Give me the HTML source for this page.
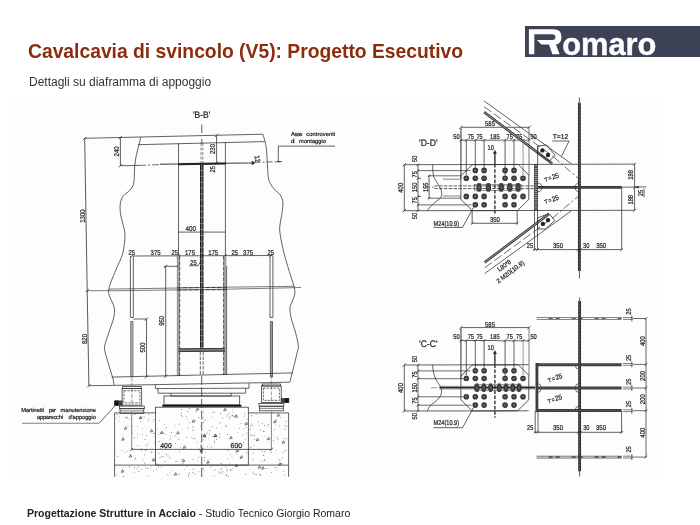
<!DOCTYPE html>
<html><head><meta charset="utf-8">
<style>
html,body{margin:0;padding:0;background:#fff;}
body{width:700px;height:525px;position:relative;overflow:hidden;font-family:"Liberation Sans",sans-serif;}
#title{position:absolute;left:28.3px;top:41.1px;font-size:19.3px;font-weight:bold;color:#8b2c0c;white-space:nowrap;}
#sub{position:absolute;left:28.5px;top:75px;font-size:12px;color:#333;white-space:nowrap;}
#foot{position:absolute;left:27px;top:506.5px;font-size:10.5px;color:#222;white-space:nowrap;}
#logo{position:absolute;left:525px;top:26px;width:175px;height:30.5px;background:#3d4257;}
#logo span{position:absolute;left:37.3px;top:1px;font-size:30.8px;font-weight:bold;color:#fff;-webkit-text-stroke:0.4px #fff;}
svg{position:absolute;left:0;top:0;}
svg text{font-family:"Liberation Sans",sans-serif;text-rendering:geometricPrecision;}
#title,#sub,#foot,#logo,#dw{will-change:transform;}
</style></head><body>
<div id="title">Cavalcavia di svincolo (V5): Progetto Esecutivo</div>
<div id="sub">Dettagli su diaframma di appoggio</div>
<div id="logo"><span>omaro</span>
<svg width="175" height="30" viewBox="525 26 175 30"><path d="M528.9 29.3 H553.5 Q561.4 29.3 561.4 36.5 V38 Q561.4 43.5 556 44.4 L559.6 54.3 H552.4 L549 44.6 H541.4 L536.9 40 H552 Q555.4 40 555.4 37.5 V36.8 Q555.4 34.3 552 34.3 H534.3 V54.3 H528.9 Z" fill="#fff"/></svg>
</div>
<div id="foot"><b>Progettazione Strutture in Acciaio</b> - Studio Tecnico Giorgio Romaro</div>
<svg id="dw" width="700" height="525" viewBox="0 0 700 525">
<rect x="13.5" y="96" width="644.5" height="384" fill="#fdfdfd"/>
<text x="201.7" y="118.3" font-size="9.5" text-anchor="middle" fill="#222" stroke="#222" stroke-width="0.22" textLength="17.5" lengthAdjust="spacingAndGlyphs">'B-B'</text>
<line x1="201.8" y1="124.5" x2="201.8" y2="133" stroke="#2e2e2e" stroke-width="0.8"/>
<line x1="201.8" y1="139" x2="201.8" y2="143.6" stroke="#2e2e2e" stroke-width="0.8"/>
<line x1="84.7" y1="138.3" x2="262.8" y2="134.2" stroke="#2e2e2e" stroke-width="0.75"/>
<line x1="137.9" y1="144.7" x2="264.8" y2="141.6" stroke="#2e2e2e" stroke-width="0.75"/>
<path d="M140.7 137.2 C140.40 138.50 139.63 141.98 138.9 145 C138.17 148.02 137.02 151.65 136.3 155.3 C135.58 158.95 134.93 163.27 134.6 166.9 C134.27 170.53 134.52 174.10 134.3 177.1 C134.08 180.10 134.07 182.67 133.3 184.9 C132.53 187.13 131.33 188.70 129.7 190.5 C128.07 192.30 125.05 193.63 123.5 195.7 C121.95 197.77 120.92 200.00 120.4 202.9 C119.88 205.80 120.02 209.68 120.4 213.1 C120.78 216.52 121.93 219.68 122.7 223.4 C123.47 227.12 125.00 230.40 125.0 235.4 C125.00 240.40 124.15 247.82 122.7 253.4 C121.25 258.98 118.23 264.18 116.3 268.9 C114.37 273.62 112.38 278.07 111.1 281.7 C109.82 285.33 108.80 288.13 108.6 290.7 C108.40 293.27 108.97 294.32 109.9 297.1 C110.83 299.88 113.57 303.97 114.2 307.4 C114.83 310.83 114.63 313.42 113.7 317.7 C112.77 321.98 110.10 328.38 108.6 333.1 C107.10 337.82 105.28 342.85 104.7 346 C104.12 349.15 104.38 348.72 105.1 352 C105.82 355.28 107.70 361.27 109 365.7 C110.30 370.13 112.05 375.35 112.9 378.6 C113.75 381.85 113.90 384.10 114.1 385.2" stroke="#2e2e2e" stroke-width="0.75" fill="none" stroke-linejoin="round"/>
<path d="M262.8 134.2 C263.35 136.22 265.33 141.28 266.1 146.3 C266.87 151.32 266.97 158.73 267.4 164.3 C267.83 169.87 267.62 175.63 268.7 179.7 C269.78 183.77 271.97 186.13 273.9 188.7 C275.83 191.27 278.80 192.73 280.3 195.1 C281.80 197.47 282.68 199.47 282.9 202.9 C283.12 206.33 282.12 211.85 281.6 215.7 C281.08 219.55 280.02 222.72 279.8 226 C279.58 229.28 279.58 230.83 280.3 235.4 C281.02 239.97 282.60 247.40 284.1 253.4 C285.60 259.40 287.70 266.03 289.3 271.4 C290.90 276.77 292.77 281.95 293.7 285.6 C294.63 289.25 295.12 290.73 294.9 293.3 C294.68 295.87 293.22 298.65 292.4 301 C291.58 303.35 290.22 304.62 290 307.4 C289.78 310.18 290.15 313.42 291.1 317.7 C292.05 321.98 294.50 328.38 295.7 333.1 C296.90 337.82 298.07 342.70 298.3 346 C298.53 349.30 297.82 349.62 297.1 352.9 C296.38 356.18 295.22 360.85 294 365.7 C292.78 370.55 290.50 379.28 289.8 382.0" stroke="#2e2e2e" stroke-width="0.75" fill="none" stroke-linejoin="round"/>
<path d="M84.7 138.3 L87.2 290.7 L88.9 385.7" stroke="#2e2e2e" stroke-width="0.8" fill="none" stroke-linejoin="round"/>
<line x1="83.10000000000001" y1="139.9" x2="86.3" y2="136.70000000000002" stroke="#2e2e2e" stroke-width="0.8"/>
<line x1="85.60000000000001" y1="292.3" x2="88.8" y2="289.09999999999997" stroke="#2e2e2e" stroke-width="0.8"/>
<line x1="87.30000000000001" y1="387.3" x2="90.5" y2="384.09999999999997" stroke="#2e2e2e" stroke-width="0.8"/>
<text x="85.3" y="216" font-size="7" text-anchor="middle" fill="#222" stroke="#222" stroke-width="0.22" transform="rotate(-90 85.3 216)" textLength="13.5" lengthAdjust="spacingAndGlyphs">1300</text>
<text x="87" y="339" font-size="7" text-anchor="middle" fill="#222" stroke="#222" stroke-width="0.22" transform="rotate(-90 87 339)" textLength="10" lengthAdjust="spacingAndGlyphs">820</text>
<line x1="120.4" y1="137.5" x2="120.4" y2="165.7" stroke="#2e2e2e" stroke-width="0.75"/>
<line x1="118.80000000000001" y1="139.1" x2="122.0" y2="135.9" stroke="#2e2e2e" stroke-width="0.8"/>
<line x1="118.80000000000001" y1="167.29999999999998" x2="122.0" y2="164.1" stroke="#2e2e2e" stroke-width="0.8"/>
<line x1="120.4" y1="165.7" x2="139" y2="165.4" stroke="#2e2e2e" stroke-width="0.75"/>
<line x1="139" y1="165.4" x2="160" y2="164.6" stroke="#2e2e2e" stroke-width="0.7" stroke-dasharray="7 2 2 2"/>
<text x="118.8" y="151.4" font-size="7" text-anchor="middle" fill="#222" stroke="#222" stroke-width="0.22" transform="rotate(-90 118.8 151.4)" textLength="10" lengthAdjust="spacingAndGlyphs">240</text>
<line x1="160" y1="164.4" x2="254.0" y2="163.0" stroke="#4a4a4a" stroke-width="0.9"/>
<line x1="160" y1="163.6" x2="254.0" y2="162.3" stroke="#888" stroke-width="0.5"/>
<line x1="178" y1="164.2" x2="226" y2="163.5" stroke="#222" stroke-width="2.0"/>
<line x1="254.6" y1="162.3" x2="282" y2="161.6" stroke="#2e2e2e" stroke-width="0.7" stroke-dasharray="6 2 2 2"/>
<text x="255.0" y="159.2" font-size="7" text-anchor="middle" fill="#222" stroke="#222" stroke-width="0.22" transform="rotate(80 255.0 159.2)" textLength="6.4" lengthAdjust="spacingAndGlyphs">12</text>
<path d="M252.0 161.2 L255.0 163.0 L252.0 164.8 Z" stroke="#2e2e2e" stroke-width="0.6" fill="#2e2e2e" stroke-linejoin="round"/>
<text x="291.1" y="135.6" font-size="5.7" text-anchor="start" fill="#222" stroke="#222" stroke-width="0.22" textLength="11.4" lengthAdjust="spacing">Asse</text>
<text x="306.3" y="135.6" font-size="5.7" text-anchor="start" fill="#222" stroke="#222" stroke-width="0.22" textLength="28.8" lengthAdjust="spacing">controventi</text>
<text x="291.1" y="143.0" font-size="5.7" text-anchor="start" fill="#222" stroke="#222" stroke-width="0.22" textLength="3.5" lengthAdjust="spacing">di</text>
<text x="299.1" y="143.0" font-size="5.7" text-anchor="start" fill="#222" stroke="#222" stroke-width="0.22" textLength="26.9" lengthAdjust="spacing">montaggio</text>
<line x1="278.0" y1="146.1" x2="335.1" y2="146.1" stroke="#808080" stroke-width="1.1"/>
<line x1="278.3" y1="146.3" x2="278.3" y2="161.7" stroke="#2e2e2e" stroke-width="0.75"/>
<line x1="276.8" y1="161.7" x2="280.5" y2="161.7" stroke="#2e2e2e" stroke-width="1.0"/>
<line x1="216.6" y1="136" x2="216.6" y2="163.3" stroke="#2e2e2e" stroke-width="0.75"/>
<line x1="215.0" y1="136.9" x2="218.2" y2="133.70000000000002" stroke="#2e2e2e" stroke-width="0.8"/>
<line x1="215.0" y1="164.9" x2="218.2" y2="161.70000000000002" stroke="#2e2e2e" stroke-width="0.8"/>
<text x="215.0" y="149" font-size="7" text-anchor="middle" fill="#222" stroke="#222" stroke-width="0.22" transform="rotate(-90 215.0 149)" textLength="10" lengthAdjust="spacingAndGlyphs">230</text>
<text x="215.0" y="169.2" font-size="7" text-anchor="middle" fill="#222" stroke="#222" stroke-width="0.22" transform="rotate(-90 215.0 169.2)" textLength="6.5" lengthAdjust="spacingAndGlyphs">25</text>
<line x1="178.5" y1="143.3" x2="178.5" y2="256" stroke="#2e2e2e" stroke-width="0.75"/>
<line x1="225.4" y1="142.2" x2="225.4" y2="256" stroke="#2e2e2e" stroke-width="0.75"/>
<line x1="178.5" y1="232.1" x2="225" y2="232.1" stroke="#2e2e2e" stroke-width="0.75"/>
<text x="190.8" y="231.2" font-size="7" text-anchor="middle" fill="#222" stroke="#222" stroke-width="0.22" textLength="10.5" lengthAdjust="spacingAndGlyphs">400</text>
<line x1="201.7" y1="165" x2="201.7" y2="348.5" stroke="#707070" stroke-width="3.2"/>
<line x1="200.5" y1="165" x2="200.5" y2="348.5" stroke="#151515" stroke-width="1.0" stroke-dasharray="5 0.9"/>
<line x1="202.9" y1="165" x2="202.9" y2="348.5" stroke="#151515" stroke-width="1.0" stroke-dasharray="5 0.9"/>
<line x1="200.3" y1="351.7" x2="200.3" y2="375.3" stroke="#5a5a5a" stroke-width="0.9" stroke-dasharray="3.5 1.3"/>
<line x1="203.2" y1="351.7" x2="203.2" y2="375.3" stroke="#5a5a5a" stroke-width="0.9" stroke-dasharray="3.5 1.3"/>
<line x1="201.0" y1="143" x2="201.0" y2="163" stroke="#555" stroke-width="0.7" stroke-dasharray="3 1.5"/>
<line x1="202.8" y1="143" x2="202.8" y2="163" stroke="#555" stroke-width="0.7" stroke-dasharray="3 1.5"/>
<line x1="133.3" y1="256" x2="272.6" y2="255.5" stroke="#2e2e2e" stroke-width="0.75"/>
<line x1="130.3" y1="257.59335" x2="133.5" y2="254.39335" stroke="#2e2e2e" stroke-width="0.8"/>
<line x1="176.9" y1="257.43025" x2="180.1" y2="254.23025" stroke="#2e2e2e" stroke-width="0.8"/>
<line x1="200.20000000000002" y1="257.3487" x2="203.4" y2="254.14870000000002" stroke="#2e2e2e" stroke-width="0.8"/>
<line x1="223.4" y1="257.2675" x2="226.6" y2="254.0675" stroke="#2e2e2e" stroke-width="0.8"/>
<line x1="269.59999999999997" y1="257.1058" x2="272.8" y2="253.9058" stroke="#2e2e2e" stroke-width="0.8"/>
<text x="131.7" y="254.6" font-size="7" text-anchor="middle" fill="#222" stroke="#222" stroke-width="0.22" textLength="6.5" lengthAdjust="spacingAndGlyphs">25</text>
<text x="155.6" y="254.6" font-size="7" text-anchor="middle" fill="#222" stroke="#222" stroke-width="0.22" textLength="10" lengthAdjust="spacingAndGlyphs">375</text>
<text x="174.7" y="254.6" font-size="7" text-anchor="middle" fill="#222" stroke="#222" stroke-width="0.22" textLength="6.5" lengthAdjust="spacingAndGlyphs">25</text>
<text x="190" y="254.6" font-size="7" text-anchor="middle" fill="#222" stroke="#222" stroke-width="0.22" textLength="10" lengthAdjust="spacingAndGlyphs">175</text>
<text x="213.2" y="254.6" font-size="7" text-anchor="middle" fill="#222" stroke="#222" stroke-width="0.22" textLength="10" lengthAdjust="spacingAndGlyphs">175</text>
<text x="234.7" y="254.6" font-size="7" text-anchor="middle" fill="#222" stroke="#222" stroke-width="0.22" textLength="6.5" lengthAdjust="spacingAndGlyphs">25</text>
<text x="248.1" y="254.6" font-size="7" text-anchor="middle" fill="#222" stroke="#222" stroke-width="0.22" textLength="10" lengthAdjust="spacingAndGlyphs">375</text>
<text x="270.8" y="254.6" font-size="7" text-anchor="middle" fill="#222" stroke="#222" stroke-width="0.22" textLength="6.5" lengthAdjust="spacingAndGlyphs">25</text>
<text x="193.6" y="264.9" font-size="7" text-anchor="middle" fill="#222" stroke="#222" stroke-width="0.22" textLength="6.5" lengthAdjust="spacingAndGlyphs">25</text>
<line x1="189" y1="265.7" x2="198.1" y2="265.7" stroke="#2e2e2e" stroke-width="0.75"/>
<line x1="198.1" y1="265.7" x2="201" y2="261" stroke="#2e2e2e" stroke-width="0.75"/>
<line x1="178.5" y1="256" x2="178.5" y2="376" stroke="#a4a4a4" stroke-width="2.6"/>
<line x1="179.7" y1="256" x2="179.7" y2="376" stroke="#333" stroke-width="0.8" stroke-dasharray="4 1.3"/>
<line x1="177.3" y1="256" x2="177.3" y2="376" stroke="#666" stroke-width="0.5"/>
<line x1="225.0" y1="256" x2="225.0" y2="375" stroke="#a4a4a4" stroke-width="2.8"/>
<line x1="223.6" y1="256" x2="223.6" y2="375" stroke="#333" stroke-width="0.8" stroke-dasharray="4 1.3"/>
<line x1="226.6" y1="266" x2="226.6" y2="375" stroke="#333" stroke-width="0.7"/>
<line x1="130.4" y1="256" x2="130.4" y2="317.5" stroke="#2e2e2e" stroke-width="0.75"/>
<line x1="133.3" y1="256" x2="133.3" y2="317.5" stroke="#2e2e2e" stroke-width="0.75"/>
<line x1="130.4" y1="317.5" x2="133.3" y2="317.5" stroke="#2e2e2e" stroke-width="0.75"/>
<line x1="130.8" y1="321.5" x2="130.8" y2="377.3" stroke="#2e2e2e" stroke-width="0.75"/>
<line x1="132.9" y1="321.5" x2="132.9" y2="377.3" stroke="#2e2e2e" stroke-width="0.75"/>
<line x1="130.8" y1="321.5" x2="132.9" y2="321.5" stroke="#2e2e2e" stroke-width="0.75"/>
<line x1="131.85" y1="321.5" x2="131.85" y2="377" stroke="#888" stroke-width="0.9"/>
<line x1="270.0" y1="256" x2="270.0" y2="317.5" stroke="#2e2e2e" stroke-width="0.75"/>
<line x1="272.9" y1="256" x2="272.9" y2="317.5" stroke="#2e2e2e" stroke-width="0.75"/>
<line x1="270.0" y1="317.5" x2="272.9" y2="317.5" stroke="#2e2e2e" stroke-width="0.75"/>
<line x1="270.4" y1="321.5" x2="270.4" y2="377.3" stroke="#2e2e2e" stroke-width="0.75"/>
<line x1="272.5" y1="321.5" x2="272.5" y2="377.3" stroke="#2e2e2e" stroke-width="0.75"/>
<line x1="270.4" y1="321.5" x2="272.5" y2="321.5" stroke="#2e2e2e" stroke-width="0.75"/>
<line x1="271.45" y1="321.5" x2="271.45" y2="377" stroke="#888" stroke-width="0.9"/>
<line x1="86.7" y1="290.8" x2="109" y2="290.6" stroke="#444" stroke-width="0.7"/>
<path d="M109 289.1 L178 288.0 L226 287.2 L294.6 286.3" stroke="#444" stroke-width="0.7" fill="none" stroke-linejoin="round"/>
<path d="M109 290.8 L178 289.9 L226 289.2 L294.6 287.7 L301 287.4" stroke="#444" stroke-width="0.7" fill="none" stroke-linejoin="round"/>
<line x1="177" y1="287.7" x2="226.7" y2="287.4" stroke="#333" stroke-width="0.85" stroke-dasharray="4.5 1.2"/>
<line x1="177" y1="290.0" x2="226.7" y2="289.7" stroke="#333" stroke-width="0.85" stroke-dasharray="4.5 1.2"/>
<line x1="165.7" y1="266.3" x2="165.7" y2="376.4" stroke="#2e2e2e" stroke-width="0.75"/>
<line x1="163.9" y1="266.3" x2="178.5" y2="266.3" stroke="#2e2e2e" stroke-width="0.75"/>
<line x1="164.1" y1="267.90000000000003" x2="167.29999999999998" y2="264.7" stroke="#2e2e2e" stroke-width="0.8"/>
<line x1="164.1" y1="378.0" x2="167.29999999999998" y2="374.79999999999995" stroke="#2e2e2e" stroke-width="0.8"/>
<text x="164.0" y="320.8" font-size="7" text-anchor="middle" fill="#222" stroke="#222" stroke-width="0.22" transform="rotate(-90 164.0 320.8)" textLength="10" lengthAdjust="spacingAndGlyphs">950</text>
<line x1="146.5" y1="319" x2="146.5" y2="376.8" stroke="#2e2e2e" stroke-width="0.75"/>
<line x1="133.3" y1="319" x2="146.5" y2="319" stroke="#2e2e2e" stroke-width="0.75"/>
<line x1="144.9" y1="320.6" x2="148.1" y2="317.4" stroke="#2e2e2e" stroke-width="0.8"/>
<line x1="144.9" y1="378.40000000000003" x2="148.1" y2="375.2" stroke="#2e2e2e" stroke-width="0.8"/>
<text x="145" y="347.5" font-size="7" text-anchor="middle" fill="#222" stroke="#222" stroke-width="0.22" transform="rotate(-90 145 347.5)" textLength="10" lengthAdjust="spacingAndGlyphs">500</text>
<line x1="178.5" y1="350.2" x2="225" y2="349.8" stroke="#777" stroke-width="3.2"/>
<line x1="178.5" y1="348.8" x2="225" y2="348.4" stroke="#222" stroke-width="0.8"/>
<line x1="178.5" y1="351.6" x2="225" y2="351.2" stroke="#222" stroke-width="0.8"/>
<line x1="111.7" y1="377.1" x2="292.9" y2="372.9" stroke="#2e2e2e" stroke-width="0.75"/>
<line x1="88.9" y1="385.7" x2="112.6" y2="385.4" stroke="#2e2e2e" stroke-width="0.75"/>
<line x1="112.6" y1="385.4" x2="289.6" y2="382.2" stroke="#2e2e2e" stroke-width="0.75"/>
<rect x="122.7" y="386.5" width="18.4" height="2.0" fill="none" stroke="#2e2e2e" stroke-width="0.75"/>
<rect x="122.10000000000001" y="388.5" width="19.6" height="16.6" fill="none" stroke="#2e2e2e" stroke-width="0.75"/>
<rect x="123.9" y="390.7" width="16.0" height="12.2" fill="none" stroke="#2e2e2e" stroke-width="0.7" stroke-dasharray="2.2 1.2"/>
<rect x="119.5" y="406.1" width="24.8" height="2.6" fill="none" stroke="#2e2e2e" stroke-width="0.75"/>
<rect x="120.0" y="408.7" width="23.8" height="4.6" fill="none" stroke="#2e2e2e" stroke-width="0.75"/>
<line x1="120.0" y1="410.9" x2="143.8" y2="410.9" stroke="#2e2e2e" stroke-width="0.6"/>
<line x1="131.9" y1="377.5" x2="131.9" y2="406.5" stroke="#555" stroke-width="0.6" stroke-dasharray="4 1.5"/>
<rect x="114.7" y="400.9" width="7.4" height="4.4" fill="#444" stroke="#2e2e2e" stroke-width="0.6"/>
<rect x="114.7" y="400.9" width="3.6" height="4.4" fill="#111" stroke="#2e2e2e" stroke-width="0.6"/>
<rect x="262.2" y="384.0" width="18.4" height="2.0" fill="none" stroke="#2e2e2e" stroke-width="0.75"/>
<rect x="261.59999999999997" y="386.0" width="19.6" height="16.6" fill="none" stroke="#2e2e2e" stroke-width="0.75"/>
<rect x="263.4" y="388.2" width="16.0" height="12.2" fill="none" stroke="#2e2e2e" stroke-width="0.7" stroke-dasharray="2.2 1.2"/>
<rect x="259.0" y="403.6" width="24.8" height="2.6" fill="none" stroke="#2e2e2e" stroke-width="0.75"/>
<rect x="259.5" y="406.2" width="23.8" height="4.6" fill="none" stroke="#2e2e2e" stroke-width="0.75"/>
<line x1="259.5" y1="408.4" x2="283.29999999999995" y2="408.4" stroke="#2e2e2e" stroke-width="0.6"/>
<line x1="271.4" y1="375.0" x2="271.4" y2="404.0" stroke="#555" stroke-width="0.6" stroke-dasharray="4 1.5"/>
<rect x="281.2" y="398.4" width="7.6" height="4.2" fill="#444" stroke="#2e2e2e" stroke-width="0.6"/>
<rect x="285.0" y="398.4" width="3.8" height="4.2" fill="#111" stroke="#2e2e2e" stroke-width="0.6"/>
<path d="M155.4 385.0 L155.4 388.6 L249.0 388.2 L249.0 383.4" stroke="#2e2e2e" stroke-width="0.75" fill="none" stroke-linejoin="round"/>
<path d="M158.0 388.6 L158.0 393.2 L245.7 393.2 L245.7 388.3" stroke="#2e2e2e" stroke-width="0.75" fill="none" stroke-linejoin="round"/>
<path d="M170.9 393.2 L170.9 396 L231.1 396 L231.1 393.2" stroke="#2e2e2e" stroke-width="0.75" fill="none" stroke-linejoin="round"/>
<rect x="164.0" y="396" width="75.7" height="8.9" fill="none" stroke="#2e2e2e" stroke-width="0.75"/>
<line x1="162.3" y1="405.8" x2="241.4" y2="405.8" stroke="#111" stroke-width="2.0"/>
<rect x="155.5" y="407.2" width="92.8" height="57.9" fill="none" stroke="#2e2e2e" stroke-width="0.75"/>
<path d="M155.5 412.9 L114.6 412.9 L114.6 476.8" stroke="#2e2e2e" stroke-width="0.75" fill="none" stroke-linejoin="round"/>
<path d="M248.3 412.9 L288.6 412.9 L288.6 476.8" stroke="#2e2e2e" stroke-width="0.75" fill="none" stroke-linejoin="round"/>
<line x1="114.6" y1="465.1" x2="288.6" y2="465.1" stroke="#2e2e2e" stroke-width="0.75"/>
<line x1="201.7" y1="376" x2="201.7" y2="477" stroke="#333" stroke-width="0.8" stroke-dasharray="9 2.5"/>
<line x1="131.7" y1="449.4" x2="271.4" y2="449.4" stroke="#2e2e2e" stroke-width="0.75"/>
<line x1="131.7" y1="411.5" x2="131.7" y2="449.4" stroke="#777" stroke-width="0.9"/>
<line x1="271.4" y1="411.5" x2="271.4" y2="449.4" stroke="#777" stroke-width="0.9"/>
<line x1="130.1" y1="451.0" x2="133.29999999999998" y2="447.79999999999995" stroke="#2e2e2e" stroke-width="0.8"/>
<line x1="200.1" y1="451.0" x2="203.29999999999998" y2="447.79999999999995" stroke="#2e2e2e" stroke-width="0.8"/>
<line x1="269.79999999999995" y1="451.0" x2="273.0" y2="447.79999999999995" stroke="#2e2e2e" stroke-width="0.8"/>
<text x="166" y="447.9" font-size="7" text-anchor="middle" fill="#222" stroke="#222" stroke-width="0.22" textLength="11.5" lengthAdjust="spacingAndGlyphs">400</text>
<text x="236.3" y="447.9" font-size="7" text-anchor="middle" fill="#222" stroke="#222" stroke-width="0.22" textLength="11.5" lengthAdjust="spacingAndGlyphs">600</text>
<rect x="185.9" y="416.6" width="0.8" height="0.8" fill="#555"/>
<rect x="163.1" y="438.1" width="0.8" height="0.8" fill="#999"/>
<rect x="209.4" y="459.0" width="0.8" height="0.8" fill="#777"/>
<rect x="159.9" y="432.4" width="0.8" height="0.8" fill="#555"/>
<rect x="178.4" y="438.9" width="0.8" height="0.8" fill="#555"/>
<rect x="231.6" y="415.1" width="0.8" height="0.8" fill="#777"/>
<rect x="213.8" y="440.7" width="0.8" height="0.8" fill="#555"/>
<rect x="208.9" y="430.3" width="0.8" height="0.8" fill="#777"/>
<rect x="160.7" y="456.1" width="0.8" height="0.8" fill="#999"/>
<rect x="194.6" y="438.4" width="0.8" height="0.8" fill="#999"/>
<rect x="207.4" y="446.3" width="0.8" height="0.8" fill="#555"/>
<rect x="209.3" y="443.9" width="0.8" height="0.8" fill="#999"/>
<rect x="165.3" y="447.9" width="0.8" height="0.8" fill="#555"/>
<rect x="212.7" y="435.9" width="0.8" height="0.8" fill="#444"/>
<rect x="227.1" y="434.2" width="0.8" height="0.8" fill="#444"/>
<rect x="189.3" y="422.1" width="0.8" height="0.8" fill="#777"/>
<rect x="220.0" y="421.8" width="0.8" height="0.8" fill="#999"/>
<rect x="204.2" y="457.0" width="0.8" height="0.8" fill="#444"/>
<rect x="182.6" y="462.9" width="0.8" height="0.8" fill="#555"/>
<rect x="203.0" y="417.4" width="0.8" height="0.8" fill="#999"/>
<rect x="170.3" y="435.5" width="0.8" height="0.8" fill="#555"/>
<rect x="243.9" y="412.5" width="0.8" height="0.8" fill="#999"/>
<rect x="187.4" y="427.7" width="0.8" height="0.8" fill="#444"/>
<rect x="209.2" y="433.7" width="0.8" height="0.8" fill="#555"/>
<rect x="242.3" y="434.7" width="0.8" height="0.8" fill="#555"/>
<rect x="162.0" y="447.3" width="0.8" height="0.8" fill="#444"/>
<rect x="182.3" y="429.7" width="0.8" height="0.8" fill="#999"/>
<rect x="158.5" y="434.0" width="0.8" height="0.8" fill="#777"/>
<rect x="212.0" y="435.7" width="0.8" height="0.8" fill="#777"/>
<rect x="226.3" y="415.4" width="0.8" height="0.8" fill="#777"/>
<rect x="192.6" y="459.4" width="0.8" height="0.8" fill="#444"/>
<rect x="163.8" y="433.3" width="0.8" height="0.8" fill="#999"/>
<rect x="236.7" y="453.9" width="0.8" height="0.8" fill="#999"/>
<rect x="220.6" y="463.2" width="0.8" height="0.8" fill="#444"/>
<rect x="243.5" y="416.6" width="0.8" height="0.8" fill="#777"/>
<rect x="170.2" y="444.9" width="0.8" height="0.8" fill="#555"/>
<rect x="200.5" y="441.1" width="0.8" height="0.8" fill="#999"/>
<rect x="182.1" y="416.3" width="0.8" height="0.8" fill="#999"/>
<rect x="211.9" y="426.0" width="0.8" height="0.8" fill="#777"/>
<rect x="219.2" y="437.0" width="0.8" height="0.8" fill="#555"/>
<rect x="198.0" y="456.8" width="0.8" height="0.8" fill="#444"/>
<rect x="192.6" y="430.2" width="0.8" height="0.8" fill="#444"/>
<rect x="214.1" y="411.7" width="0.8" height="0.8" fill="#555"/>
<rect x="245.9" y="432.8" width="0.8" height="0.8" fill="#555"/>
<rect x="187.4" y="411.1" width="0.8" height="0.8" fill="#555"/>
<rect x="208.0" y="438.1" width="0.8" height="0.8" fill="#999"/>
<rect x="212.2" y="412.1" width="0.8" height="0.8" fill="#777"/>
<rect x="212.3" y="416.5" width="0.8" height="0.8" fill="#999"/>
<rect x="243.3" y="441.8" width="0.8" height="0.8" fill="#444"/>
<rect x="167.7" y="455.6" width="0.8" height="0.8" fill="#444"/>
<rect x="200.1" y="425.6" width="0.8" height="0.8" fill="#777"/>
<rect x="165.8" y="427.3" width="0.8" height="0.8" fill="#999"/>
<rect x="200.0" y="446.8" width="0.8" height="0.8" fill="#555"/>
<rect x="175.1" y="461.3" width="0.8" height="0.8" fill="#999"/>
<rect x="169.8" y="438.5" width="0.8" height="0.8" fill="#555"/>
<rect x="225.3" y="424.8" width="0.8" height="0.8" fill="#555"/>
<rect x="219.7" y="422.8" width="0.8" height="0.8" fill="#999"/>
<rect x="239.0" y="428.0" width="0.8" height="0.8" fill="#777"/>
<rect x="204.9" y="451.7" width="0.8" height="0.8" fill="#999"/>
<rect x="214.3" y="442.4" width="0.8" height="0.8" fill="#777"/>
<rect x="229.7" y="453.9" width="0.8" height="0.8" fill="#777"/>
<rect x="174.7" y="435.7" width="0.8" height="0.8" fill="#555"/>
<rect x="246.4" y="452.3" width="0.8" height="0.8" fill="#444"/>
<rect x="180.0" y="446.8" width="0.8" height="0.8" fill="#999"/>
<rect x="197.1" y="460.5" width="0.8" height="0.8" fill="#999"/>
<rect x="243.2" y="428.5" width="0.8" height="0.8" fill="#777"/>
<rect x="165.8" y="434.4" width="0.8" height="0.8" fill="#999"/>
<rect x="175.1" y="443.0" width="0.8" height="0.8" fill="#555"/>
<rect x="200.0" y="444.6" width="0.8" height="0.8" fill="#555"/>
<rect x="232.3" y="414.9" width="0.8" height="0.8" fill="#444"/>
<rect x="227.5" y="450.1" width="0.8" height="0.8" fill="#444"/>
<rect x="237.2" y="432.4" width="0.8" height="0.8" fill="#999"/>
<rect x="164.4" y="461.0" width="0.8" height="0.8" fill="#444"/>
<rect x="198.6" y="449.7" width="0.8" height="0.8" fill="#555"/>
<rect x="222.3" y="417.7" width="0.8" height="0.8" fill="#777"/>
<rect x="159.0" y="441.2" width="0.8" height="0.8" fill="#444"/>
<rect x="229.7" y="416.4" width="0.8" height="0.8" fill="#444"/>
<rect x="216.2" y="427.8" width="0.8" height="0.8" fill="#777"/>
<rect x="158.4" y="452.8" width="0.8" height="0.8" fill="#555"/>
<rect x="204.3" y="460.3" width="0.8" height="0.8" fill="#444"/>
<rect x="246.1" y="419.1" width="0.8" height="0.8" fill="#777"/>
<rect x="159.0" y="420.1" width="0.8" height="0.8" fill="#777"/>
<rect x="225.8" y="426.4" width="0.8" height="0.8" fill="#444"/>
<rect x="232.2" y="411.6" width="0.8" height="0.8" fill="#999"/>
<rect x="238.0" y="445.2" width="0.8" height="0.8" fill="#444"/>
<rect x="231.6" y="457.2" width="0.8" height="0.8" fill="#777"/>
<rect x="204.8" y="437.4" width="0.8" height="0.8" fill="#555"/>
<rect x="235.8" y="451.5" width="0.8" height="0.8" fill="#555"/>
<rect x="227.0" y="416.6" width="0.8" height="0.8" fill="#777"/>
<rect x="199.5" y="448.7" width="0.8" height="0.8" fill="#555"/>
<rect x="186.1" y="437.1" width="0.8" height="0.8" fill="#444"/>
<rect x="227.7" y="414.1" width="0.8" height="0.8" fill="#555"/>
<rect x="179.1" y="423.7" width="0.8" height="0.8" fill="#555"/>
<rect x="202.6" y="439.5" width="0.8" height="0.8" fill="#555"/>
<rect x="196.7" y="442.4" width="0.8" height="0.8" fill="#777"/>
<rect x="219.4" y="433.4" width="0.8" height="0.8" fill="#444"/>
<rect x="202.6" y="422.0" width="0.8" height="0.8" fill="#999"/>
<rect x="240.3" y="458.0" width="0.8" height="0.8" fill="#777"/>
<rect x="232.8" y="415.9" width="0.8" height="0.8" fill="#555"/>
<rect x="192.1" y="425.8" width="0.8" height="0.8" fill="#777"/>
<rect x="195.4" y="420.1" width="0.8" height="0.8" fill="#999"/>
<rect x="227.7" y="458.3" width="0.8" height="0.8" fill="#777"/>
<rect x="241.8" y="444.1" width="0.8" height="0.8" fill="#999"/>
<rect x="169.5" y="457.5" width="0.8" height="0.8" fill="#444"/>
<rect x="176.4" y="461.3" width="0.8" height="0.8" fill="#444"/>
<rect x="236.9" y="417.3" width="0.8" height="0.8" fill="#777"/>
<rect x="171.2" y="432.3" width="0.8" height="0.8" fill="#444"/>
<rect x="187.3" y="419.1" width="0.8" height="0.8" fill="#999"/>
<rect x="164.9" y="428.6" width="0.8" height="0.8" fill="#999"/>
<rect x="206.8" y="432.8" width="0.8" height="0.8" fill="#555"/>
<rect x="191.4" y="437.1" width="0.8" height="0.8" fill="#999"/>
<rect x="203.0" y="411.8" width="0.8" height="0.8" fill="#777"/>
<rect x="244.7" y="414.0" width="0.8" height="0.8" fill="#999"/>
<rect x="181.2" y="458.7" width="0.8" height="0.8" fill="#777"/>
<rect x="181.1" y="415.4" width="0.8" height="0.8" fill="#444"/>
<rect x="233.6" y="445.9" width="0.8" height="0.8" fill="#999"/>
<rect x="193.4" y="438.1" width="0.8" height="0.8" fill="#444"/>
<rect x="220.1" y="413.2" width="0.8" height="0.8" fill="#555"/>
<rect x="229.1" y="418.4" width="0.8" height="0.8" fill="#555"/>
<rect x="180.9" y="409.1" width="0.8" height="0.8" fill="#555"/>
<rect x="229.3" y="412.9" width="0.8" height="0.8" fill="#777"/>
<rect x="162.5" y="456.3" width="0.8" height="0.8" fill="#444"/>
<rect x="157.5" y="463.7" width="0.8" height="0.8" fill="#444"/>
<rect x="240.6" y="423.1" width="0.8" height="0.8" fill="#777"/>
<rect x="160.4" y="447.8" width="0.8" height="0.8" fill="#555"/>
<rect x="244.5" y="422.8" width="0.8" height="0.8" fill="#777"/>
<rect x="174.8" y="425.6" width="0.8" height="0.8" fill="#999"/>
<rect x="204.7" y="419.7" width="0.8" height="0.8" fill="#444"/>
<rect x="201.9" y="418.1" width="0.8" height="0.8" fill="#999"/>
<rect x="229.5" y="463.7" width="0.8" height="0.8" fill="#555"/>
<rect x="157.9" y="449.1" width="0.8" height="0.8" fill="#777"/>
<rect x="203.2" y="421.9" width="0.8" height="0.8" fill="#444"/>
<rect x="166.2" y="453.9" width="0.8" height="0.8" fill="#444"/>
<rect x="216.1" y="438.7" width="0.8" height="0.8" fill="#444"/>
<rect x="244.6" y="425.4" width="0.8" height="0.8" fill="#777"/>
<rect x="245.7" y="427.3" width="0.8" height="0.8" fill="#777"/>
<rect x="193.2" y="427.6" width="0.8" height="0.8" fill="#555"/>
<rect x="232.5" y="409.0" width="0.8" height="0.8" fill="#999"/>
<rect x="195.6" y="411.3" width="0.8" height="0.8" fill="#444"/>
<rect x="235.5" y="445.6" width="0.8" height="0.8" fill="#999"/>
<rect x="210.9" y="446.9" width="0.8" height="0.8" fill="#555"/>
<rect x="198.2" y="417.0" width="0.8" height="0.8" fill="#444"/>
<rect x="156.8" y="428.5" width="0.8" height="0.8" fill="#999"/>
<rect x="244.8" y="438.7" width="0.8" height="0.8" fill="#777"/>
<rect x="159.6" y="457.4" width="0.8" height="0.8" fill="#777"/>
<rect x="188.9" y="408.3" width="0.8" height="0.8" fill="#444"/>
<rect x="164.1" y="423.8" width="0.8" height="0.8" fill="#777"/>
<rect x="179.0" y="451.5" width="0.8" height="0.8" fill="#555"/>
<rect x="180.5" y="413.2" width="0.8" height="0.8" fill="#444"/>
<rect x="209.8" y="430.2" width="0.8" height="0.8" fill="#999"/>
<rect x="127.4" y="425.6" width="0.8" height="0.8" fill="#777"/>
<rect x="141.2" y="449.8" width="0.8" height="0.8" fill="#444"/>
<rect x="145.3" y="450.0" width="0.8" height="0.8" fill="#444"/>
<rect x="121.4" y="450.2" width="0.8" height="0.8" fill="#777"/>
<rect x="117.3" y="455.8" width="0.8" height="0.8" fill="#444"/>
<rect x="144.1" y="454.6" width="0.8" height="0.8" fill="#777"/>
<rect x="151.0" y="451.6" width="0.8" height="0.8" fill="#555"/>
<rect x="147.7" y="443.2" width="0.8" height="0.8" fill="#777"/>
<rect x="118.9" y="416.1" width="0.8" height="0.8" fill="#999"/>
<rect x="152.9" y="432.8" width="0.8" height="0.8" fill="#444"/>
<rect x="137.3" y="445.4" width="0.8" height="0.8" fill="#777"/>
<rect x="134.6" y="414.2" width="0.8" height="0.8" fill="#555"/>
<rect x="144.7" y="439.1" width="0.8" height="0.8" fill="#555"/>
<rect x="141.2" y="417.3" width="0.8" height="0.8" fill="#444"/>
<rect x="125.4" y="417.7" width="0.8" height="0.8" fill="#999"/>
<rect x="124.7" y="451.8" width="0.8" height="0.8" fill="#777"/>
<rect x="144.4" y="462.8" width="0.8" height="0.8" fill="#444"/>
<rect x="148.5" y="417.8" width="0.8" height="0.8" fill="#999"/>
<rect x="145.4" y="444.8" width="0.8" height="0.8" fill="#777"/>
<rect x="118.6" y="421.4" width="0.8" height="0.8" fill="#999"/>
<rect x="140.9" y="448.6" width="0.8" height="0.8" fill="#777"/>
<rect x="116.1" y="417.0" width="0.8" height="0.8" fill="#999"/>
<rect x="153.4" y="419.0" width="0.8" height="0.8" fill="#777"/>
<rect x="141.9" y="428.5" width="0.8" height="0.8" fill="#999"/>
<rect x="133.7" y="437.3" width="0.8" height="0.8" fill="#555"/>
<rect x="154.2" y="441.5" width="0.8" height="0.8" fill="#999"/>
<rect x="153.6" y="460.8" width="0.8" height="0.8" fill="#555"/>
<rect x="126.9" y="417.8" width="0.8" height="0.8" fill="#444"/>
<rect x="154.3" y="433.3" width="0.8" height="0.8" fill="#777"/>
<rect x="118.5" y="418.5" width="0.8" height="0.8" fill="#999"/>
<rect x="152.7" y="420.6" width="0.8" height="0.8" fill="#999"/>
<rect x="150.1" y="449.2" width="0.8" height="0.8" fill="#777"/>
<rect x="135.0" y="457.8" width="0.8" height="0.8" fill="#444"/>
<rect x="116.6" y="414.2" width="0.8" height="0.8" fill="#444"/>
<rect x="142.1" y="434.3" width="0.8" height="0.8" fill="#777"/>
<rect x="131.8" y="432.8" width="0.8" height="0.8" fill="#555"/>
<rect x="148.3" y="414.1" width="0.8" height="0.8" fill="#999"/>
<rect x="148.2" y="420.0" width="0.8" height="0.8" fill="#777"/>
<rect x="143.3" y="459.1" width="0.8" height="0.8" fill="#999"/>
<rect x="125.4" y="417.2" width="0.8" height="0.8" fill="#444"/>
<rect x="154.5" y="443.5" width="0.8" height="0.8" fill="#999"/>
<rect x="151.6" y="451.8" width="0.8" height="0.8" fill="#555"/>
<rect x="126.5" y="416.6" width="0.8" height="0.8" fill="#999"/>
<rect x="140.3" y="421.4" width="0.8" height="0.8" fill="#999"/>
<rect x="132.6" y="429.8" width="0.8" height="0.8" fill="#999"/>
<rect x="146.1" y="435.4" width="0.8" height="0.8" fill="#555"/>
<rect x="147.2" y="445.5" width="0.8" height="0.8" fill="#777"/>
<rect x="143.6" y="416.5" width="0.8" height="0.8" fill="#444"/>
<rect x="133.1" y="451.6" width="0.8" height="0.8" fill="#999"/>
<rect x="134.5" y="459.6" width="0.8" height="0.8" fill="#777"/>
<rect x="122.2" y="434.7" width="0.8" height="0.8" fill="#999"/>
<rect x="127.2" y="451.0" width="0.8" height="0.8" fill="#999"/>
<rect x="131.4" y="425.9" width="0.8" height="0.8" fill="#444"/>
<rect x="137.3" y="433.7" width="0.8" height="0.8" fill="#777"/>
<rect x="140.6" y="417.8" width="0.8" height="0.8" fill="#444"/>
<rect x="137.0" y="436.6" width="0.8" height="0.8" fill="#999"/>
<rect x="154.4" y="436.5" width="0.8" height="0.8" fill="#777"/>
<rect x="136.9" y="426.2" width="0.8" height="0.8" fill="#777"/>
<rect x="128.9" y="418.6" width="0.8" height="0.8" fill="#777"/>
<rect x="129.9" y="454.5" width="0.8" height="0.8" fill="#777"/>
<rect x="283.3" y="451.5" width="0.8" height="0.8" fill="#444"/>
<rect x="264.0" y="451.3" width="0.8" height="0.8" fill="#777"/>
<rect x="263.7" y="430.9" width="0.8" height="0.8" fill="#555"/>
<rect x="268.4" y="442.7" width="0.8" height="0.8" fill="#999"/>
<rect x="254.1" y="439.2" width="0.8" height="0.8" fill="#777"/>
<rect x="252.8" y="458.8" width="0.8" height="0.8" fill="#444"/>
<rect x="264.6" y="436.3" width="0.8" height="0.8" fill="#999"/>
<rect x="281.8" y="457.6" width="0.8" height="0.8" fill="#555"/>
<rect x="254.2" y="435.3" width="0.8" height="0.8" fill="#444"/>
<rect x="286.4" y="438.5" width="0.8" height="0.8" fill="#555"/>
<rect x="264.3" y="460.3" width="0.8" height="0.8" fill="#444"/>
<rect x="286.5" y="426.4" width="0.8" height="0.8" fill="#555"/>
<rect x="257.9" y="421.6" width="0.8" height="0.8" fill="#555"/>
<rect x="285.4" y="450.1" width="0.8" height="0.8" fill="#444"/>
<rect x="252.6" y="452.8" width="0.8" height="0.8" fill="#555"/>
<rect x="279.3" y="425.6" width="0.8" height="0.8" fill="#555"/>
<rect x="274.0" y="429.2" width="0.8" height="0.8" fill="#777"/>
<rect x="273.3" y="440.4" width="0.8" height="0.8" fill="#444"/>
<rect x="276.1" y="419.6" width="0.8" height="0.8" fill="#555"/>
<rect x="260.8" y="461.2" width="0.8" height="0.8" fill="#777"/>
<rect x="264.2" y="425.2" width="0.8" height="0.8" fill="#555"/>
<rect x="249.7" y="429.1" width="0.8" height="0.8" fill="#444"/>
<rect x="260.0" y="429.8" width="0.8" height="0.8" fill="#777"/>
<rect x="267.5" y="425.7" width="0.8" height="0.8" fill="#777"/>
<rect x="250.4" y="434.6" width="0.8" height="0.8" fill="#999"/>
<rect x="251.4" y="423.7" width="0.8" height="0.8" fill="#444"/>
<rect x="252.4" y="425.4" width="0.8" height="0.8" fill="#444"/>
<rect x="284.7" y="425.3" width="0.8" height="0.8" fill="#555"/>
<rect x="276.0" y="449.9" width="0.8" height="0.8" fill="#999"/>
<rect x="275.4" y="423.9" width="0.8" height="0.8" fill="#999"/>
<rect x="277.6" y="439.2" width="0.8" height="0.8" fill="#777"/>
<rect x="268.3" y="424.0" width="0.8" height="0.8" fill="#777"/>
<rect x="258.1" y="425.1" width="0.8" height="0.8" fill="#999"/>
<rect x="253.5" y="445.2" width="0.8" height="0.8" fill="#777"/>
<rect x="283.6" y="438.3" width="0.8" height="0.8" fill="#555"/>
<rect x="285.6" y="421.3" width="0.8" height="0.8" fill="#444"/>
<rect x="251.4" y="415.2" width="0.8" height="0.8" fill="#777"/>
<rect x="265.2" y="449.5" width="0.8" height="0.8" fill="#777"/>
<rect x="264.4" y="458.9" width="0.8" height="0.8" fill="#999"/>
<rect x="277.4" y="463.9" width="0.8" height="0.8" fill="#777"/>
<rect x="261.9" y="423.3" width="0.8" height="0.8" fill="#444"/>
<rect x="250.5" y="447.2" width="0.8" height="0.8" fill="#444"/>
<rect x="281.4" y="463.2" width="0.8" height="0.8" fill="#444"/>
<rect x="255.8" y="414.1" width="0.8" height="0.8" fill="#999"/>
<rect x="252.4" y="435.0" width="0.8" height="0.8" fill="#555"/>
<rect x="270.8" y="451.9" width="0.8" height="0.8" fill="#444"/>
<rect x="263.0" y="455.1" width="0.8" height="0.8" fill="#444"/>
<rect x="252.7" y="449.3" width="0.8" height="0.8" fill="#777"/>
<rect x="263.6" y="460.0" width="0.8" height="0.8" fill="#777"/>
<rect x="261.7" y="450.9" width="0.8" height="0.8" fill="#444"/>
<rect x="250.5" y="434.5" width="0.8" height="0.8" fill="#444"/>
<rect x="250.9" y="415.7" width="0.8" height="0.8" fill="#555"/>
<rect x="280.1" y="417.1" width="0.8" height="0.8" fill="#777"/>
<rect x="277.9" y="458.9" width="0.8" height="0.8" fill="#999"/>
<rect x="263.2" y="430.7" width="0.8" height="0.8" fill="#555"/>
<rect x="259.3" y="449.8" width="0.8" height="0.8" fill="#999"/>
<rect x="284.7" y="428.9" width="0.8" height="0.8" fill="#555"/>
<rect x="250.2" y="425.7" width="0.8" height="0.8" fill="#444"/>
<rect x="276.7" y="437.3" width="0.8" height="0.8" fill="#444"/>
<rect x="279.5" y="459.7" width="0.8" height="0.8" fill="#444"/>
<rect x="138.4" y="471.0" width="0.8" height="0.8" fill="#555"/>
<rect x="253.6" y="473.4" width="0.8" height="0.8" fill="#777"/>
<rect x="220.0" y="469.3" width="0.8" height="0.8" fill="#999"/>
<rect x="194.9" y="473.8" width="0.8" height="0.8" fill="#555"/>
<rect x="203.6" y="469.9" width="0.8" height="0.8" fill="#777"/>
<rect x="158.1" y="466.6" width="0.8" height="0.8" fill="#555"/>
<rect x="198.5" y="471.4" width="0.8" height="0.8" fill="#777"/>
<rect x="284.2" y="474.8" width="0.8" height="0.8" fill="#555"/>
<rect x="161.2" y="466.8" width="0.8" height="0.8" fill="#555"/>
<rect x="188.0" y="475.9" width="0.8" height="0.8" fill="#444"/>
<rect x="145.4" y="467.3" width="0.8" height="0.8" fill="#444"/>
<rect x="222.3" y="472.7" width="0.8" height="0.8" fill="#555"/>
<rect x="249.7" y="468.9" width="0.8" height="0.8" fill="#999"/>
<rect x="213.1" y="469.7" width="0.8" height="0.8" fill="#999"/>
<rect x="149.9" y="468.5" width="0.8" height="0.8" fill="#777"/>
<rect x="156.1" y="468.8" width="0.8" height="0.8" fill="#777"/>
<rect x="171.7" y="470.0" width="0.8" height="0.8" fill="#777"/>
<rect x="202.9" y="468.3" width="0.8" height="0.8" fill="#555"/>
<rect x="228.0" y="475.9" width="0.8" height="0.8" fill="#555"/>
<rect x="116.4" y="474.8" width="0.8" height="0.8" fill="#777"/>
<rect x="260.2" y="475.1" width="0.8" height="0.8" fill="#555"/>
<rect x="266.4" y="468.3" width="0.8" height="0.8" fill="#555"/>
<rect x="148.2" y="475.7" width="0.8" height="0.8" fill="#777"/>
<rect x="275.6" y="469.7" width="0.8" height="0.8" fill="#777"/>
<rect x="192.8" y="468.6" width="0.8" height="0.8" fill="#555"/>
<rect x="133.8" y="472.0" width="0.8" height="0.8" fill="#999"/>
<rect x="153.0" y="469.7" width="0.8" height="0.8" fill="#777"/>
<rect x="123.2" y="476.0" width="0.8" height="0.8" fill="#555"/>
<rect x="218.7" y="472.5" width="0.8" height="0.8" fill="#777"/>
<rect x="255.7" y="474.2" width="0.8" height="0.8" fill="#444"/>
<rect x="232.3" y="467.9" width="0.8" height="0.8" fill="#999"/>
<rect x="129.0" y="466.3" width="0.8" height="0.8" fill="#444"/>
<rect x="209.9" y="466.6" width="0.8" height="0.8" fill="#555"/>
<rect x="252.5" y="472.6" width="0.8" height="0.8" fill="#777"/>
<rect x="225.5" y="466.9" width="0.8" height="0.8" fill="#777"/>
<rect x="184.0" y="468.7" width="0.8" height="0.8" fill="#999"/>
<rect x="230.5" y="470.2" width="0.8" height="0.8" fill="#555"/>
<rect x="169.3" y="471.7" width="0.8" height="0.8" fill="#999"/>
<rect x="186.8" y="466.2" width="0.8" height="0.8" fill="#999"/>
<rect x="226.5" y="469.9" width="0.8" height="0.8" fill="#444"/>
<rect x="150.6" y="466.1" width="0.8" height="0.8" fill="#777"/>
<rect x="188.5" y="474.2" width="0.8" height="0.8" fill="#444"/>
<rect x="215.0" y="469.6" width="0.8" height="0.8" fill="#777"/>
<rect x="138.0" y="466.5" width="0.8" height="0.8" fill="#777"/>
<rect x="225.8" y="475.1" width="0.8" height="0.8" fill="#555"/>
<rect x="214.1" y="475.3" width="0.8" height="0.8" fill="#777"/>
<rect x="140.7" y="468.8" width="0.8" height="0.8" fill="#777"/>
<rect x="274.8" y="467.1" width="0.8" height="0.8" fill="#444"/>
<rect x="245.2" y="473.9" width="0.8" height="0.8" fill="#777"/>
<rect x="167.5" y="474.4" width="0.8" height="0.8" fill="#555"/>
<rect x="283.4" y="470.8" width="0.8" height="0.8" fill="#555"/>
<rect x="220.1" y="472.4" width="0.8" height="0.8" fill="#555"/>
<rect x="271.1" y="472.2" width="0.8" height="0.8" fill="#777"/>
<rect x="225.7" y="474.6" width="0.8" height="0.8" fill="#444"/>
<rect x="221.3" y="468.0" width="0.8" height="0.8" fill="#444"/>
<rect x="147.1" y="468.2" width="0.8" height="0.8" fill="#444"/>
<rect x="277.0" y="467.6" width="0.8" height="0.8" fill="#999"/>
<rect x="136.8" y="468.5" width="0.8" height="0.8" fill="#777"/>
<rect x="122.7" y="471.6" width="0.8" height="0.8" fill="#555"/>
<rect x="230.5" y="469.2" width="0.8" height="0.8" fill="#444"/>
<rect x="218.7" y="471.5" width="0.8" height="0.8" fill="#999"/>
<rect x="227.2" y="469.1" width="0.8" height="0.8" fill="#777"/>
<rect x="188.8" y="472.6" width="0.8" height="0.8" fill="#444"/>
<rect x="202.2" y="467.8" width="0.8" height="0.8" fill="#555"/>
<rect x="222.0" y="470.9" width="0.8" height="0.8" fill="#777"/>
<rect x="192.5" y="472.2" width="0.8" height="0.8" fill="#444"/>
<rect x="259.5" y="474.1" width="0.8" height="0.8" fill="#444"/>
<rect x="134.0" y="467.3" width="0.8" height="0.8" fill="#444"/>
<rect x="178.4" y="474.0" width="0.8" height="0.8" fill="#555"/>
<rect x="122.6" y="467.3" width="0.8" height="0.8" fill="#999"/>
<path d="M124.2 429.3 L126.8 428.78 L125.5 426.7 Z" stroke="#2e2e2e" stroke-width="0.6" fill="none" stroke-linejoin="round"/>
<path d="M121.7 440.3 L124.3 439.78 L123 437.7 Z" stroke="#2e2e2e" stroke-width="0.6" fill="none" stroke-linejoin="round"/>
<path d="M139.2 418.8 L141.8 418.28 L140.5 416.2 Z" stroke="#2e2e2e" stroke-width="0.6" fill="none" stroke-linejoin="round"/>
<path d="M150.2 432.0 L152.8 431.47999999999996 L151.5 429.4 Z" stroke="#2e2e2e" stroke-width="0.6" fill="none" stroke-linejoin="round"/>
<path d="M160.7 433.8 L163.3 433.28 L162 431.2 Z" stroke="#2e2e2e" stroke-width="0.6" fill="none" stroke-linejoin="round"/>
<path d="M176.7 434.0 L179.3 433.47999999999996 L178 431.4 Z" stroke="#2e2e2e" stroke-width="0.6" fill="none" stroke-linejoin="round"/>
<path d="M192.2 422.3 L194.8 421.78 L193.5 419.7 Z" stroke="#2e2e2e" stroke-width="0.6" fill="none" stroke-linejoin="round"/>
<path d="M196.2 410.3 L198.8 409.78 L197.5 407.7 Z" stroke="#2e2e2e" stroke-width="0.6" fill="none" stroke-linejoin="round"/>
<path d="M203.2 436.8 L205.8 436.28 L204.5 434.2 Z" stroke="#2e2e2e" stroke-width="0.6" fill="none" stroke-linejoin="round"/>
<path d="M214.2 436.8 L216.8 436.28 L215.5 434.2 Z" stroke="#2e2e2e" stroke-width="0.6" fill="none" stroke-linejoin="round"/>
<path d="M183.2 448.3 L185.8 447.78 L184.5 445.7 Z" stroke="#2e2e2e" stroke-width="0.6" fill="none" stroke-linejoin="round"/>
<path d="M200.2 452.3 L202.8 451.78 L201.5 449.7 Z" stroke="#2e2e2e" stroke-width="0.6" fill="none" stroke-linejoin="round"/>
<path d="M129.2 457.3 L131.8 456.78 L130.5 454.7 Z" stroke="#2e2e2e" stroke-width="0.6" fill="none" stroke-linejoin="round"/>
<path d="M152.2 460.8 L154.8 460.28 L153.5 458.2 Z" stroke="#2e2e2e" stroke-width="0.6" fill="none" stroke-linejoin="round"/>
<path d="M182.2 461.8 L184.8 461.28 L183.5 459.2 Z" stroke="#2e2e2e" stroke-width="0.6" fill="none" stroke-linejoin="round"/>
<path d="M206.7 463.3 L209.3 462.78 L208 460.7 Z" stroke="#2e2e2e" stroke-width="0.6" fill="none" stroke-linejoin="round"/>
<path d="M121.2 472.3 L123.8 471.78 L122.5 469.7 Z" stroke="#2e2e2e" stroke-width="0.6" fill="none" stroke-linejoin="round"/>
<path d="M174.2 475.3 L176.8 474.78 L175.5 472.7 Z" stroke="#2e2e2e" stroke-width="0.6" fill="none" stroke-linejoin="round"/>
<path d="M223.7 410.8 L226.3 410.28 L225 408.2 Z" stroke="#2e2e2e" stroke-width="0.6" fill="none" stroke-linejoin="round"/>
<path d="M234.7 417.3 L237.3 416.78 L236 414.7 Z" stroke="#2e2e2e" stroke-width="0.6" fill="none" stroke-linejoin="round"/>
<path d="M245.2 424.8 L247.8 424.28 L246.5 422.2 Z" stroke="#2e2e2e" stroke-width="0.6" fill="none" stroke-linejoin="round"/>
<path d="M203.2 436.8 L205.8 436.28 L204.5 434.2 Z" stroke="#2e2e2e" stroke-width="0.6" fill="none" stroke-linejoin="round"/>
<path d="M214.2 436.8 L216.8 436.28 L215.5 434.2 Z" stroke="#2e2e2e" stroke-width="0.6" fill="none" stroke-linejoin="round"/>
<path d="M229.7 438.8 L232.3 438.28 L231 436.2 Z" stroke="#2e2e2e" stroke-width="0.6" fill="none" stroke-linejoin="round"/>
<path d="M236.2 451.8 L238.8 451.28 L237.5 449.2 Z" stroke="#2e2e2e" stroke-width="0.6" fill="none" stroke-linejoin="round"/>
<path d="M240.2 458.3 L242.8 457.78 L241.5 455.7 Z" stroke="#2e2e2e" stroke-width="0.6" fill="none" stroke-linejoin="round"/>
<path d="M235.2 466.8 L237.8 466.28 L236.5 464.2 Z" stroke="#2e2e2e" stroke-width="0.6" fill="none" stroke-linejoin="round"/>
<path d="M258.2 468.3 L260.8 467.78 L259.5 465.7 Z" stroke="#2e2e2e" stroke-width="0.6" fill="none" stroke-linejoin="round"/>
<path d="M261.7 469.3 L264.3 468.78 L263 466.7 Z" stroke="#2e2e2e" stroke-width="0.6" fill="none" stroke-linejoin="round"/>
<path d="M278.7 465.3 L281.3 464.78 L280 462.7 Z" stroke="#2e2e2e" stroke-width="0.6" fill="none" stroke-linejoin="round"/>
<path d="M256.2 440.8 L258.8 440.28 L257.5 438.2 Z" stroke="#2e2e2e" stroke-width="0.6" fill="none" stroke-linejoin="round"/>
<path d="M267.2 439.8 L269.8 439.28 L268.5 437.2 Z" stroke="#2e2e2e" stroke-width="0.6" fill="none" stroke-linejoin="round"/>
<path d="M273.7 422.8 L276.3 422.28 L275 420.2 Z" stroke="#2e2e2e" stroke-width="0.6" fill="none" stroke-linejoin="round"/>
<path d="M277.2 416.3 L279.8 415.78 L278.5 413.7 Z" stroke="#2e2e2e" stroke-width="0.6" fill="none" stroke-linejoin="round"/>
<path d="M282.2 443.3 L284.8 442.78 L283.5 440.7 Z" stroke="#2e2e2e" stroke-width="0.6" fill="none" stroke-linejoin="round"/>
<text x="21.3" y="412.3" font-size="5.7" text-anchor="start" fill="#222" stroke="#222" stroke-width="0.22" textLength="22.8" lengthAdjust="spacing">Martinetti</text>
<text x="48.8" y="412.3" font-size="5.7" text-anchor="start" fill="#222" stroke="#222" stroke-width="0.22" textLength="7.1" lengthAdjust="spacing">per</text>
<text x="60.6" y="412.3" font-size="5.7" text-anchor="start" fill="#222" stroke="#222" stroke-width="0.22" textLength="35.3" lengthAdjust="spacing">manutenzione</text>
<text x="37.0" y="419.4" font-size="5.7" text-anchor="start" fill="#222" stroke="#222" stroke-width="0.22" textLength="25.9" lengthAdjust="spacing">apparecchi</text>
<text x="68.4" y="419.4" font-size="5.7" text-anchor="start" fill="#222" stroke="#222" stroke-width="0.22" textLength="27.5" lengthAdjust="spacing">d'appoggio</text>
<line x1="22.1" y1="423.3" x2="99.1" y2="423.3" stroke="#808080" stroke-width="1.1"/>
<line x1="99.1" y1="423.3" x2="115.0" y2="405.8" stroke="#2e2e2e" stroke-width="0.75"/>
<text x="428.3" y="145.8" font-size="9.5" text-anchor="middle" fill="#222" stroke="#222" stroke-width="0.22" textLength="18.5" lengthAdjust="spacingAndGlyphs">'D-D'</text>
<line x1="460.9" y1="127.3" x2="529.0" y2="127.3" stroke="#2e2e2e" stroke-width="0.75"/>
<line x1="459.29999999999995" y1="128.9" x2="462.5" y2="125.7" stroke="#2e2e2e" stroke-width="0.8"/>
<line x1="527.4" y1="128.9" x2="530.6" y2="125.7" stroke="#2e2e2e" stroke-width="0.8"/>
<text x="490" y="126.2" font-size="7" text-anchor="middle" fill="#222" stroke="#222" stroke-width="0.22" textLength="10" lengthAdjust="spacingAndGlyphs">585</text>
<line x1="460.9" y1="127.3" x2="460.9" y2="179" stroke="#a0a0a0" stroke-width="1.7"/>
<line x1="460.9" y1="127.3" x2="460.9" y2="176" stroke="#555" stroke-width="0.6"/>
<line x1="529.0" y1="127.3" x2="529.0" y2="175" stroke="#444" stroke-width="0.7"/>
<line x1="523.1" y1="140.2" x2="523.1" y2="175" stroke="#aaa" stroke-width="1.2"/>
<line x1="460.9" y1="140.2" x2="529.0" y2="140.2" stroke="#2e2e2e" stroke-width="0.75"/>
<line x1="497" y1="140.6" x2="529" y2="140.6" stroke="#aaa" stroke-width="1.2"/>
<line x1="459.59999999999997" y1="141.5" x2="462.2" y2="138.89999999999998" stroke="#2e2e2e" stroke-width="0.8"/>
<line x1="465.0" y1="141.5" x2="467.6" y2="138.89999999999998" stroke="#2e2e2e" stroke-width="0.8"/>
<line x1="474.0" y1="141.5" x2="476.6" y2="138.89999999999998" stroke="#2e2e2e" stroke-width="0.8"/>
<line x1="482.8" y1="141.5" x2="485.40000000000003" y2="138.89999999999998" stroke="#2e2e2e" stroke-width="0.8"/>
<line x1="503.8" y1="141.5" x2="506.40000000000003" y2="138.89999999999998" stroke="#2e2e2e" stroke-width="0.8"/>
<line x1="512.7" y1="141.5" x2="515.3" y2="138.89999999999998" stroke="#2e2e2e" stroke-width="0.8"/>
<line x1="521.7" y1="141.5" x2="524.3" y2="138.89999999999998" stroke="#2e2e2e" stroke-width="0.8"/>
<line x1="527.7" y1="141.5" x2="530.3" y2="138.89999999999998" stroke="#2e2e2e" stroke-width="0.8"/>
<text x="456.4" y="139.0" font-size="7" text-anchor="middle" fill="#222" stroke="#222" stroke-width="0.22" textLength="6.4" lengthAdjust="spacingAndGlyphs">50</text>
<text x="470.8" y="139.0" font-size="7" text-anchor="middle" fill="#222" stroke="#222" stroke-width="0.22" textLength="6.2" lengthAdjust="spacingAndGlyphs">75</text>
<text x="479.6" y="139.0" font-size="7" text-anchor="middle" fill="#222" stroke="#222" stroke-width="0.22" textLength="6.2" lengthAdjust="spacingAndGlyphs">75</text>
<text x="494.8" y="139.0" font-size="7" text-anchor="middle" fill="#222" stroke="#222" stroke-width="0.22" textLength="9.5" lengthAdjust="spacingAndGlyphs">185</text>
<text x="509.7" y="139.0" font-size="7" text-anchor="middle" fill="#222" stroke="#222" stroke-width="0.22" textLength="6.2" lengthAdjust="spacingAndGlyphs">75</text>
<text x="519.2" y="139.0" font-size="7" text-anchor="middle" fill="#222" stroke="#222" stroke-width="0.22" textLength="6.2" lengthAdjust="spacingAndGlyphs">75</text>
<text x="533.6" y="139.0" font-size="7" text-anchor="middle" fill="#222" stroke="#222" stroke-width="0.22" textLength="6.4" lengthAdjust="spacingAndGlyphs">50</text>
<line x1="466.3" y1="140.2" x2="466.3" y2="175.39999999999998" stroke="#2e2e2e" stroke-width="0.75"/>
<line x1="505.1" y1="140.2" x2="505.1" y2="175.39999999999998" stroke="#2e2e2e" stroke-width="0.75"/>
<line x1="475.3" y1="140.2" x2="475.3" y2="167.6" stroke="#2e2e2e" stroke-width="0.75"/>
<line x1="484.1" y1="140.2" x2="484.1" y2="167.6" stroke="#2e2e2e" stroke-width="0.75"/>
<line x1="514.0" y1="140.2" x2="514.0" y2="167.6" stroke="#2e2e2e" stroke-width="0.75"/>
<text x="490.8" y="149.6" font-size="7" text-anchor="middle" fill="#222" stroke="#222" stroke-width="0.22" textLength="6.4" lengthAdjust="spacingAndGlyphs">10</text>
<path d="M493.3 153.4 L494.9 150.3 L496.5 153.4 Z" stroke="#2e2e2e" stroke-width="0.5" fill="#222" stroke-linejoin="round"/>
<line x1="494.9" y1="152.5" x2="494.9" y2="164" stroke="#222" stroke-width="1.3"/>
<line x1="494.9" y1="164" x2="494.9" y2="213.5" stroke="#222" stroke-width="1.3" stroke-dasharray="3.6 1.6"/>
<line x1="404.3" y1="164.7" x2="528.6" y2="164.39999999999998" stroke="#2e2e2e" stroke-width="0.75"/>
<line x1="404.3" y1="210.7" x2="528.6" y2="210.5" stroke="#2e2e2e" stroke-width="0.75"/>
<line x1="404.3" y1="164.7" x2="404.3" y2="210.7" stroke="#2e2e2e" stroke-width="0.75"/>
<line x1="402.7" y1="166.29999999999998" x2="405.90000000000003" y2="163.1" stroke="#2e2e2e" stroke-width="0.8"/>
<line x1="402.7" y1="212.29999999999998" x2="405.90000000000003" y2="209.1" stroke="#2e2e2e" stroke-width="0.8"/>
<text x="403.2" y="187.70000000000002" font-size="7" text-anchor="middle" fill="#222" stroke="#222" stroke-width="0.22" transform="rotate(-90 403.2 187.70000000000002)" textLength="10" lengthAdjust="spacingAndGlyphs">400</text>
<line x1="418.0" y1="164.7" x2="418.0" y2="210.7" stroke="#2e2e2e" stroke-width="0.75"/>
<line x1="416.7" y1="166.0" x2="419.3" y2="163.39999999999998" stroke="#2e2e2e" stroke-width="0.8"/>
<line x1="416.7" y1="171.9" x2="419.3" y2="169.29999999999998" stroke="#2e2e2e" stroke-width="0.8"/>
<line x1="416.7" y1="179.7" x2="419.3" y2="177.09999999999997" stroke="#2e2e2e" stroke-width="0.8"/>
<line x1="416.7" y1="197.8" x2="419.3" y2="195.2" stroke="#2e2e2e" stroke-width="0.8"/>
<line x1="416.7" y1="206.20000000000002" x2="419.3" y2="203.6" stroke="#2e2e2e" stroke-width="0.8"/>
<line x1="416.7" y1="212.0" x2="419.3" y2="209.39999999999998" stroke="#2e2e2e" stroke-width="0.8"/>
<text x="417.4" y="158.8" font-size="7" text-anchor="middle" fill="#222" stroke="#222" stroke-width="0.22" transform="rotate(-90 417.4 158.8)" textLength="6.4" lengthAdjust="spacingAndGlyphs">50</text>
<text x="417.4" y="174.3" font-size="7" text-anchor="middle" fill="#222" stroke="#222" stroke-width="0.22" transform="rotate(-90 417.4 174.3)" textLength="6.2" lengthAdjust="spacingAndGlyphs">75</text>
<text x="417.4" y="187.4" font-size="7" text-anchor="middle" fill="#222" stroke="#222" stroke-width="0.22" transform="rotate(-90 417.4 187.4)" textLength="9.5" lengthAdjust="spacingAndGlyphs">150</text>
<text x="417.4" y="200.3" font-size="7" text-anchor="middle" fill="#222" stroke="#222" stroke-width="0.22" transform="rotate(-90 417.4 200.3)" textLength="6.2" lengthAdjust="spacingAndGlyphs">75</text>
<text x="417.4" y="216.0" font-size="7" text-anchor="middle" fill="#222" stroke="#222" stroke-width="0.22" transform="rotate(-90 417.4 216.0)" textLength="6.4" lengthAdjust="spacingAndGlyphs">50</text>
<line x1="418.0" y1="170.6" x2="470.5" y2="170.6" stroke="#2e2e2e" stroke-width="0.7"/>
<line x1="418.0" y1="204.9" x2="471.5" y2="204.9" stroke="#2e2e2e" stroke-width="0.7"/>
<line x1="418.0" y1="178.39999999999998" x2="421" y2="178.39999999999998" stroke="#2e2e2e" stroke-width="0.7"/>
<line x1="418.0" y1="196.5" x2="421" y2="196.5" stroke="#2e2e2e" stroke-width="0.7"/>
<line x1="429.1" y1="175.8" x2="429.1" y2="198.2" stroke="#2e2e2e" stroke-width="0.75"/>
<line x1="427.8" y1="177.10000000000002" x2="430.40000000000003" y2="174.5" stroke="#2e2e2e" stroke-width="0.8"/>
<line x1="427.8" y1="199.5" x2="430.40000000000003" y2="196.89999999999998" stroke="#2e2e2e" stroke-width="0.8"/>
<line x1="428" y1="175.8" x2="461" y2="175.8" stroke="#2e2e2e" stroke-width="0.7"/>
<line x1="428" y1="198.2" x2="461" y2="198.2" stroke="#2e2e2e" stroke-width="0.7"/>
<text x="428.4" y="187.2" font-size="7" text-anchor="middle" fill="#222" stroke="#222" stroke-width="0.22" transform="rotate(-90 428.4 187.2)" textLength="9.5" lengthAdjust="spacingAndGlyphs">155</text>
<line x1="443" y1="179.2" x2="461" y2="179.2" stroke="#999" stroke-width="1.2"/>
<line x1="443" y1="196.0" x2="461" y2="196.0" stroke="#999" stroke-width="1.2"/>
<path d="M432.6 164.7 C432.73 166.48 432.68 172.47 433.4 175.4 C434.12 178.33 435.62 179.87 436.9 182.3 C438.18 184.73 440.40 187.57 441.1 190 C441.80 192.43 442.23 194.75 441.1 196.9 C439.97 199.05 436.30 201.05 434.3 202.9 C432.30 204.75 430.25 206.70 429.1 208 C427.95 209.30 427.68 210.25 427.4 210.7" stroke="#2e2e2e" stroke-width="0.75" fill="none" stroke-linejoin="round"/>
<path d="M472.3 164.7 L518.3 164.5 L528.8 175.0 L528.8 199.4 L517.6 210.5 L472.3 210.7 L460.9 199.4 L460.9 175.8 Z" stroke="#2e2e2e" stroke-width="0.8" fill="none" stroke-linejoin="round"/>
<circle cx="475.3" cy="170.4" r="2.8" fill="#333" stroke="none" stroke-width="0.5"/>
<line x1="473.7" y1="170.4" x2="476.90000000000003" y2="170.4" stroke="#909090" stroke-width="0.5"/>
<line x1="475.3" y1="168.8" x2="475.3" y2="172.0" stroke="#909090" stroke-width="0.5"/>
<circle cx="484.1" cy="170.4" r="2.8" fill="#333" stroke="none" stroke-width="0.5"/>
<line x1="482.5" y1="170.4" x2="485.70000000000005" y2="170.4" stroke="#909090" stroke-width="0.5"/>
<line x1="484.1" y1="168.8" x2="484.1" y2="172.0" stroke="#909090" stroke-width="0.5"/>
<circle cx="505.1" cy="170.4" r="2.8" fill="#333" stroke="none" stroke-width="0.5"/>
<line x1="503.5" y1="170.4" x2="506.70000000000005" y2="170.4" stroke="#909090" stroke-width="0.5"/>
<line x1="505.1" y1="168.8" x2="505.1" y2="172.0" stroke="#909090" stroke-width="0.5"/>
<circle cx="514.0" cy="170.4" r="2.8" fill="#333" stroke="none" stroke-width="0.5"/>
<line x1="512.4" y1="170.4" x2="515.6" y2="170.4" stroke="#909090" stroke-width="0.5"/>
<line x1="514.0" y1="168.8" x2="514.0" y2="172.0" stroke="#909090" stroke-width="0.5"/>
<circle cx="475.3" cy="204.8" r="2.8" fill="#333" stroke="none" stroke-width="0.5"/>
<line x1="473.7" y1="204.8" x2="476.90000000000003" y2="204.8" stroke="#909090" stroke-width="0.5"/>
<line x1="475.3" y1="203.20000000000002" x2="475.3" y2="206.4" stroke="#909090" stroke-width="0.5"/>
<circle cx="484.1" cy="204.8" r="2.8" fill="#333" stroke="none" stroke-width="0.5"/>
<line x1="482.5" y1="204.8" x2="485.70000000000005" y2="204.8" stroke="#909090" stroke-width="0.5"/>
<line x1="484.1" y1="203.20000000000002" x2="484.1" y2="206.4" stroke="#909090" stroke-width="0.5"/>
<circle cx="505.1" cy="204.8" r="2.8" fill="#333" stroke="none" stroke-width="0.5"/>
<line x1="503.5" y1="204.8" x2="506.70000000000005" y2="204.8" stroke="#909090" stroke-width="0.5"/>
<line x1="505.1" y1="203.20000000000002" x2="505.1" y2="206.4" stroke="#909090" stroke-width="0.5"/>
<circle cx="514.0" cy="204.8" r="2.8" fill="#333" stroke="none" stroke-width="0.5"/>
<line x1="512.4" y1="204.8" x2="515.6" y2="204.8" stroke="#909090" stroke-width="0.5"/>
<line x1="514.0" y1="203.20000000000002" x2="514.0" y2="206.4" stroke="#909090" stroke-width="0.5"/>
<circle cx="466.3" cy="178.2" r="2.8" fill="#333" stroke="none" stroke-width="0.5"/>
<line x1="464.7" y1="178.2" x2="467.90000000000003" y2="178.2" stroke="#909090" stroke-width="0.5"/>
<line x1="466.3" y1="176.6" x2="466.3" y2="179.79999999999998" stroke="#909090" stroke-width="0.5"/>
<circle cx="475.3" cy="178.2" r="2.8" fill="#333" stroke="none" stroke-width="0.5"/>
<line x1="473.7" y1="178.2" x2="476.90000000000003" y2="178.2" stroke="#909090" stroke-width="0.5"/>
<line x1="475.3" y1="176.6" x2="475.3" y2="179.79999999999998" stroke="#909090" stroke-width="0.5"/>
<circle cx="484.1" cy="178.2" r="2.8" fill="#333" stroke="none" stroke-width="0.5"/>
<line x1="482.5" y1="178.2" x2="485.70000000000005" y2="178.2" stroke="#909090" stroke-width="0.5"/>
<line x1="484.1" y1="176.6" x2="484.1" y2="179.79999999999998" stroke="#909090" stroke-width="0.5"/>
<circle cx="505.1" cy="178.2" r="2.8" fill="#333" stroke="none" stroke-width="0.5"/>
<line x1="503.5" y1="178.2" x2="506.70000000000005" y2="178.2" stroke="#909090" stroke-width="0.5"/>
<line x1="505.1" y1="176.6" x2="505.1" y2="179.79999999999998" stroke="#909090" stroke-width="0.5"/>
<circle cx="514.0" cy="178.2" r="2.8" fill="#333" stroke="none" stroke-width="0.5"/>
<line x1="512.4" y1="178.2" x2="515.6" y2="178.2" stroke="#909090" stroke-width="0.5"/>
<line x1="514.0" y1="176.6" x2="514.0" y2="179.79999999999998" stroke="#909090" stroke-width="0.5"/>
<circle cx="523.0" cy="178.2" r="2.8" fill="#333" stroke="none" stroke-width="0.5"/>
<line x1="521.4" y1="178.2" x2="524.6" y2="178.2" stroke="#909090" stroke-width="0.5"/>
<line x1="523.0" y1="176.6" x2="523.0" y2="179.79999999999998" stroke="#909090" stroke-width="0.5"/>
<circle cx="466.3" cy="196.4" r="2.8" fill="#333" stroke="none" stroke-width="0.5"/>
<line x1="464.7" y1="196.4" x2="467.90000000000003" y2="196.4" stroke="#909090" stroke-width="0.5"/>
<line x1="466.3" y1="194.8" x2="466.3" y2="198.0" stroke="#909090" stroke-width="0.5"/>
<circle cx="475.3" cy="196.4" r="2.8" fill="#333" stroke="none" stroke-width="0.5"/>
<line x1="473.7" y1="196.4" x2="476.90000000000003" y2="196.4" stroke="#909090" stroke-width="0.5"/>
<line x1="475.3" y1="194.8" x2="475.3" y2="198.0" stroke="#909090" stroke-width="0.5"/>
<circle cx="484.1" cy="196.4" r="2.8" fill="#333" stroke="none" stroke-width="0.5"/>
<line x1="482.5" y1="196.4" x2="485.70000000000005" y2="196.4" stroke="#909090" stroke-width="0.5"/>
<line x1="484.1" y1="194.8" x2="484.1" y2="198.0" stroke="#909090" stroke-width="0.5"/>
<circle cx="505.1" cy="196.4" r="2.8" fill="#333" stroke="none" stroke-width="0.5"/>
<line x1="503.5" y1="196.4" x2="506.70000000000005" y2="196.4" stroke="#909090" stroke-width="0.5"/>
<line x1="505.1" y1="194.8" x2="505.1" y2="198.0" stroke="#909090" stroke-width="0.5"/>
<circle cx="514.0" cy="196.4" r="2.8" fill="#333" stroke="none" stroke-width="0.5"/>
<line x1="512.4" y1="196.4" x2="515.6" y2="196.4" stroke="#909090" stroke-width="0.5"/>
<line x1="514.0" y1="194.8" x2="514.0" y2="198.0" stroke="#909090" stroke-width="0.5"/>
<circle cx="523.0" cy="196.4" r="2.8" fill="#333" stroke="none" stroke-width="0.5"/>
<line x1="521.4" y1="196.4" x2="524.6" y2="196.4" stroke="#909090" stroke-width="0.5"/>
<line x1="523.0" y1="194.8" x2="523.0" y2="198.0" stroke="#909090" stroke-width="0.5"/>
<line x1="434.3" y1="185.9" x2="533.7" y2="185.9" stroke="#333" stroke-width="0.8" stroke-dasharray="3.5 1.3"/>
<line x1="434.3" y1="188.6" x2="533.7" y2="188.6" stroke="#333" stroke-width="0.8" stroke-dasharray="3.5 1.3"/>
<line x1="425" y1="187.20000000000002" x2="434" y2="187.20000000000002" stroke="#555" stroke-width="0.7" stroke-dasharray="5 2"/>
<rect x="476.4" y="184.8" width="5.2" height="5.2" fill="#2a2a2a" stroke="none" stroke-width="0.75"/>
<rect x="477.2" y="183.1" width="3.6" height="8.6" fill="#444" stroke="none" stroke-width="0.75"/>
<line x1="478.0" y1="187.4" x2="480.0" y2="187.4" stroke="#999" stroke-width="0.5"/>
<rect x="485.79999999999995" y="184.8" width="5.2" height="5.2" fill="#2a2a2a" stroke="none" stroke-width="0.75"/>
<rect x="486.59999999999997" y="183.1" width="3.6" height="8.6" fill="#444" stroke="none" stroke-width="0.75"/>
<line x1="487.4" y1="187.4" x2="489.4" y2="187.4" stroke="#999" stroke-width="0.5"/>
<rect x="498.59999999999997" y="184.8" width="5.2" height="5.2" fill="#2a2a2a" stroke="none" stroke-width="0.75"/>
<rect x="499.4" y="183.1" width="3.6" height="8.6" fill="#444" stroke="none" stroke-width="0.75"/>
<line x1="500.2" y1="187.4" x2="502.2" y2="187.4" stroke="#999" stroke-width="0.5"/>
<rect x="507.2" y="184.8" width="5.2" height="5.2" fill="#2a2a2a" stroke="none" stroke-width="0.75"/>
<rect x="508.0" y="183.1" width="3.6" height="8.6" fill="#444" stroke="none" stroke-width="0.75"/>
<line x1="508.8" y1="187.4" x2="510.8" y2="187.4" stroke="#999" stroke-width="0.5"/>
<rect x="515.4" y="184.8" width="5.2" height="5.2" fill="#2a2a2a" stroke="none" stroke-width="0.75"/>
<rect x="516.1999999999999" y="183.1" width="3.6" height="8.6" fill="#444" stroke="none" stroke-width="0.75"/>
<line x1="517.0" y1="187.4" x2="519.0" y2="187.4" stroke="#999" stroke-width="0.5"/>
<rect x="474.5" y="184.5" width="46.5" height="5.8" fill="none" stroke="#333" stroke-width="0.5"/>
<text x="446.3" y="226.0" font-size="7" text-anchor="middle" fill="#222" stroke="#222" stroke-width="0.22" textLength="25.5" lengthAdjust="spacingAndGlyphs">M24(10.9)</text>
<line x1="433.4" y1="227.4" x2="462.6" y2="227.4" stroke="#2e2e2e" stroke-width="0.75"/>
<line x1="462.6" y1="227.4" x2="473.6" y2="207.2" stroke="#2e2e2e" stroke-width="0.75"/>
<line x1="472.2" y1="223.3" x2="517.2" y2="223.3" stroke="#2e2e2e" stroke-width="0.75"/>
<line x1="472.2" y1="211" x2="472.2" y2="224.2" stroke="#777" stroke-width="1.2"/>
<line x1="517.2" y1="211" x2="517.2" y2="224.2" stroke="#777" stroke-width="1.2"/>
<line x1="470.9" y1="224.60000000000002" x2="473.5" y2="222.0" stroke="#2e2e2e" stroke-width="0.8"/>
<line x1="515.9000000000001" y1="224.60000000000002" x2="518.5" y2="222.0" stroke="#2e2e2e" stroke-width="0.8"/>
<text x="494.9" y="222.4" font-size="7" text-anchor="middle" fill="#222" stroke="#222" stroke-width="0.22" textLength="10" lengthAdjust="spacingAndGlyphs">350</text>
<line x1="528.6" y1="164.4" x2="634.6" y2="164.1" stroke="#2e2e2e" stroke-width="0.75"/>
<line x1="528.6" y1="210.5" x2="634.6" y2="210.3" stroke="#2e2e2e" stroke-width="0.75"/>
<line x1="536.0" y1="164.2" x2="536.0" y2="210.3" stroke="#4a4a4a" stroke-width="3.0" stroke-dasharray="1.6 0.5"/>
<line x1="534.5" y1="164.2" x2="534.5" y2="250" stroke="#2e2e2e" stroke-width="0.75"/>
<line x1="537.5" y1="164.2" x2="537.5" y2="250" stroke="#2e2e2e" stroke-width="0.75"/>
<line x1="537.7" y1="187.4" x2="621.7" y2="187.4" stroke="#333" stroke-width="2.8"/>
<line x1="537.7" y1="187.4" x2="621.7" y2="187.4" stroke="#888" stroke-width="0.6" stroke-dasharray="1.5 1.5"/>
<line x1="579.4" y1="97.5" x2="579.4" y2="102.7" stroke="#2e2e2e" stroke-width="0.8"/>
<line x1="579.4" y1="102.7" x2="579.4" y2="271" stroke="#333" stroke-width="2.9"/>
<line x1="579.4" y1="102.7" x2="579.4" y2="271" stroke="#8a8a8a" stroke-width="0.6" stroke-dasharray="1.6 1.6"/>
<line x1="579.4" y1="271" x2="579.4" y2="278.5" stroke="#2e2e2e" stroke-width="0.8"/>
<path d="M537.6 182.9 A4.5 4.5 0 0 1 537.6 191.9" fill="none" stroke="#2e2e2e" stroke-width="0.7"/>
<path d="M579.4 182.9 A4.5 4.5 0 0 0 579.4 191.9" fill="none" stroke="#2e2e2e" stroke-width="0.7"/>
<line x1="634.6" y1="164.1" x2="634.6" y2="210.3" stroke="#2e2e2e" stroke-width="0.75"/>
<line x1="633.3000000000001" y1="165.4" x2="635.9" y2="162.79999999999998" stroke="#2e2e2e" stroke-width="0.8"/>
<line x1="633.3000000000001" y1="188.70000000000002" x2="635.9" y2="186.1" stroke="#2e2e2e" stroke-width="0.8"/>
<line x1="633.3000000000001" y1="211.60000000000002" x2="635.9" y2="209.0" stroke="#2e2e2e" stroke-width="0.8"/>
<text x="633.4" y="174.9" font-size="7" text-anchor="middle" fill="#222" stroke="#222" stroke-width="0.22" transform="rotate(-90 633.4 174.9)" textLength="9.5" lengthAdjust="spacingAndGlyphs">188</text>
<text x="633.4" y="199.7" font-size="7" text-anchor="middle" fill="#222" stroke="#222" stroke-width="0.22" transform="rotate(-90 633.4 199.7)" textLength="9.5" lengthAdjust="spacingAndGlyphs">188</text>
<line x1="621.7" y1="187.2" x2="646.6" y2="186.9" stroke="#2e2e2e" stroke-width="0.75"/>
<line x1="644" y1="188.4" x2="644" y2="197.3" stroke="#2e2e2e" stroke-width="0.75"/>
<text x="643.2" y="193" font-size="7" text-anchor="middle" fill="#222" stroke="#222" stroke-width="0.22" transform="rotate(-90 643.2 193)" textLength="6.3" lengthAdjust="spacingAndGlyphs">25</text>
<path d="M635.5 187.2 L638.5 186.2 L638.5 188.2 Z" stroke="#2e2e2e" stroke-width="0.4" fill="#222" stroke-linejoin="round"/>
<line x1="621.7" y1="187.4" x2="621.7" y2="249.6" stroke="#2e2e2e" stroke-width="0.75"/>
<g transform="rotate(-18 552.3 179.6)">
<text x="544.9" y="179.6" font-size="5.6000000000000005" text-anchor="start" fill="#222" stroke="#222" stroke-width="0.22" textLength="3.3" lengthAdjust="spacingAndGlyphs">T</text>
<line x1="549.1" y1="176.6" x2="551.8" y2="176.6" stroke="#111" stroke-width="0.75"/>
<line x1="549.1" y1="178.29999999999998" x2="551.8" y2="178.29999999999998" stroke="#111" stroke-width="0.75"/>
<text x="552.6999999999999" y="179.6" font-size="7" text-anchor="start" fill="#222" stroke="#222" stroke-width="0.22" textLength="7.000000000000001" lengthAdjust="spacingAndGlyphs">25</text>
</g>
<g transform="rotate(-18 552.3 201.8)">
<text x="544.9" y="201.8" font-size="5.6000000000000005" text-anchor="start" fill="#222" stroke="#222" stroke-width="0.22" textLength="3.3" lengthAdjust="spacingAndGlyphs">T</text>
<line x1="549.1" y1="198.8" x2="551.8" y2="198.8" stroke="#111" stroke-width="0.75"/>
<line x1="549.1" y1="200.5" x2="551.8" y2="200.5" stroke="#111" stroke-width="0.75"/>
<text x="552.6999999999999" y="201.8" font-size="7" text-anchor="start" fill="#222" stroke="#222" stroke-width="0.22" textLength="7.000000000000001" lengthAdjust="spacingAndGlyphs">25</text>
</g>
<line x1="484.1" y1="101" x2="571.5" y2="163.9" stroke="#2e2e2e" stroke-width="0.75"/>
<line x1="484.1" y1="106.7" x2="553" y2="156.3" stroke="#2e2e2e" stroke-width="0.7" stroke-dasharray="9 3"/>
<line x1="484.1" y1="112.1" x2="552.3" y2="163.6" stroke="#8a8a8a" stroke-width="2.2"/>
<line x1="484.6" y1="111.4" x2="552.8" y2="162.9" stroke="#222" stroke-width="0.8"/>
<line x1="483.6" y1="112.9" x2="551.8" y2="164.4" stroke="#222" stroke-width="0.8"/>
<line x1="553.4" y1="156.7" x2="578.4" y2="178.6" stroke="#2e2e2e" stroke-width="0.7" stroke-dasharray="8 2.5 2 2.5"/>
<path d="M537.7 146.1 L546.6 145.0 L555.2 155.3 L549.2 161.0 L537.7 152.8 Z" stroke="#2e2e2e" stroke-width="0.8" fill="none" stroke-linejoin="round"/>
<circle cx="542.4" cy="150.4" r="2.2" fill="#222" stroke="none" stroke-width="0.5"/>
<circle cx="548.0" cy="155.0" r="2.2" fill="#222" stroke="none" stroke-width="0.5"/>
<line x1="537.7" y1="146.1" x2="537.7" y2="164.2" stroke="#2e2e2e" stroke-width="0.75"/>
<text x="560.4" y="139.4" font-size="7" text-anchor="middle" fill="#222" stroke="#222" stroke-width="0.22" textLength="15.5" lengthAdjust="spacingAndGlyphs">T=12</text>
<line x1="552.3" y1="141.0" x2="569.1" y2="141.0" stroke="#2e2e2e" stroke-width="0.75"/>
<line x1="569.1" y1="141.0" x2="561.7" y2="155.9" stroke="#2e2e2e" stroke-width="0.75"/>
<line x1="484.6" y1="262.4" x2="549.0" y2="213.9" stroke="#8a8a8a" stroke-width="2.2"/>
<line x1="484.1" y1="261.7" x2="548.5" y2="213.2" stroke="#222" stroke-width="0.8"/>
<line x1="485.1" y1="263.2" x2="549.5" y2="214.7" stroke="#222" stroke-width="0.8"/>
<line x1="484.6" y1="267.9" x2="552" y2="218.4" stroke="#2e2e2e" stroke-width="0.7" stroke-dasharray="9 3"/>
<line x1="484.6" y1="273.6" x2="571.1" y2="211.0" stroke="#2e2e2e" stroke-width="0.75"/>
<line x1="552" y1="218.4" x2="578.2" y2="196.4" stroke="#2e2e2e" stroke-width="0.7" stroke-dasharray="8 2.5 2 2.5"/>
<path d="M537.7 217.9 L548.9 213.5 L554.9 220.4 L545.4 229.0 L537.7 229.0 Z" stroke="#2e2e2e" stroke-width="0.8" fill="none" stroke-linejoin="round"/>
<circle cx="542.9" cy="223.9" r="2.2" fill="#222" stroke="none" stroke-width="0.5"/>
<circle cx="548.0" cy="220.1" r="2.2" fill="#222" stroke="none" stroke-width="0.5"/>
<text x="505.6" y="267.3" font-size="6.5" text-anchor="middle" fill="#222" stroke="#222" stroke-width="0.22" transform="rotate(-37 505.6 267.3)" textLength="15" lengthAdjust="spacingAndGlyphs">L80*8</text>
<text x="511.6" y="273.6" font-size="6.5" text-anchor="middle" fill="#222" stroke="#222" stroke-width="0.22" transform="rotate(-37 511.6 273.6)" textLength="33" lengthAdjust="spacingAndGlyphs">2 M20(10.9)</text>
<line x1="533.2" y1="249.6" x2="621.7" y2="249.6" stroke="#2e2e2e" stroke-width="0.75"/>
<line x1="533.2" y1="250.9" x2="535.8" y2="248.29999999999998" stroke="#2e2e2e" stroke-width="0.8"/>
<line x1="536.2" y1="250.9" x2="538.8" y2="248.29999999999998" stroke="#2e2e2e" stroke-width="0.8"/>
<line x1="576.7" y1="250.9" x2="579.3" y2="248.29999999999998" stroke="#2e2e2e" stroke-width="0.8"/>
<line x1="579.5" y1="250.9" x2="582.0999999999999" y2="248.29999999999998" stroke="#2e2e2e" stroke-width="0.8"/>
<line x1="620.4000000000001" y1="250.9" x2="623.0" y2="248.29999999999998" stroke="#2e2e2e" stroke-width="0.8"/>
<text x="530" y="248.4" font-size="7" text-anchor="middle" fill="#222" stroke="#222" stroke-width="0.22" textLength="6.3" lengthAdjust="spacingAndGlyphs">25</text>
<text x="558" y="248.4" font-size="7" text-anchor="middle" fill="#222" stroke="#222" stroke-width="0.22" textLength="10" lengthAdjust="spacingAndGlyphs">350</text>
<text x="586.2" y="247.6" font-size="7" text-anchor="middle" fill="#222" stroke="#222" stroke-width="0.22" textLength="6.3" lengthAdjust="spacingAndGlyphs">30</text>
<text x="601.2" y="248.4" font-size="7" text-anchor="middle" fill="#222" stroke="#222" stroke-width="0.22" textLength="10" lengthAdjust="spacingAndGlyphs">350</text>
<text x="428.3" y="347.0" font-size="9.5" text-anchor="middle" fill="#222" stroke="#222" stroke-width="0.22" textLength="18.5" lengthAdjust="spacingAndGlyphs">'C-C'</text>
<line x1="460.9" y1="327.6" x2="529.0" y2="327.6" stroke="#2e2e2e" stroke-width="0.75"/>
<line x1="459.29999999999995" y1="329.20000000000005" x2="462.5" y2="326.0" stroke="#2e2e2e" stroke-width="0.8"/>
<line x1="527.4" y1="329.20000000000005" x2="530.6" y2="326.0" stroke="#2e2e2e" stroke-width="0.8"/>
<text x="490" y="326.5" font-size="7" text-anchor="middle" fill="#222" stroke="#222" stroke-width="0.22" textLength="10" lengthAdjust="spacingAndGlyphs">585</text>
<line x1="460.9" y1="327.6" x2="460.9" y2="379.3" stroke="#a0a0a0" stroke-width="1.7"/>
<line x1="460.9" y1="327.6" x2="460.9" y2="376.3" stroke="#555" stroke-width="0.6"/>
<line x1="529.0" y1="327.6" x2="529.0" y2="375.3" stroke="#444" stroke-width="0.7"/>
<line x1="523.1" y1="340.5" x2="523.1" y2="375.3" stroke="#aaa" stroke-width="1.2"/>
<line x1="460.9" y1="340.5" x2="529.0" y2="340.5" stroke="#2e2e2e" stroke-width="0.75"/>
<line x1="497" y1="340.9" x2="529" y2="340.9" stroke="#aaa" stroke-width="1.2"/>
<line x1="459.59999999999997" y1="341.8" x2="462.2" y2="339.2" stroke="#2e2e2e" stroke-width="0.8"/>
<line x1="465.0" y1="341.8" x2="467.6" y2="339.2" stroke="#2e2e2e" stroke-width="0.8"/>
<line x1="474.0" y1="341.8" x2="476.6" y2="339.2" stroke="#2e2e2e" stroke-width="0.8"/>
<line x1="482.8" y1="341.8" x2="485.40000000000003" y2="339.2" stroke="#2e2e2e" stroke-width="0.8"/>
<line x1="503.8" y1="341.8" x2="506.40000000000003" y2="339.2" stroke="#2e2e2e" stroke-width="0.8"/>
<line x1="512.7" y1="341.8" x2="515.3" y2="339.2" stroke="#2e2e2e" stroke-width="0.8"/>
<line x1="521.7" y1="341.8" x2="524.3" y2="339.2" stroke="#2e2e2e" stroke-width="0.8"/>
<line x1="527.7" y1="341.8" x2="530.3" y2="339.2" stroke="#2e2e2e" stroke-width="0.8"/>
<text x="456.4" y="339.3" font-size="7" text-anchor="middle" fill="#222" stroke="#222" stroke-width="0.22" textLength="6.4" lengthAdjust="spacingAndGlyphs">50</text>
<text x="470.8" y="339.3" font-size="7" text-anchor="middle" fill="#222" stroke="#222" stroke-width="0.22" textLength="6.2" lengthAdjust="spacingAndGlyphs">75</text>
<text x="479.6" y="339.3" font-size="7" text-anchor="middle" fill="#222" stroke="#222" stroke-width="0.22" textLength="6.2" lengthAdjust="spacingAndGlyphs">75</text>
<text x="494.8" y="339.3" font-size="7" text-anchor="middle" fill="#222" stroke="#222" stroke-width="0.22" textLength="9.5" lengthAdjust="spacingAndGlyphs">185</text>
<text x="509.7" y="339.3" font-size="7" text-anchor="middle" fill="#222" stroke="#222" stroke-width="0.22" textLength="6.2" lengthAdjust="spacingAndGlyphs">75</text>
<text x="519.2" y="339.3" font-size="7" text-anchor="middle" fill="#222" stroke="#222" stroke-width="0.22" textLength="6.2" lengthAdjust="spacingAndGlyphs">75</text>
<text x="533.6" y="339.3" font-size="7" text-anchor="middle" fill="#222" stroke="#222" stroke-width="0.22" textLength="6.4" lengthAdjust="spacingAndGlyphs">50</text>
<line x1="466.3" y1="340.5" x2="466.3" y2="375.7" stroke="#2e2e2e" stroke-width="0.75"/>
<line x1="505.1" y1="340.5" x2="505.1" y2="375.7" stroke="#2e2e2e" stroke-width="0.75"/>
<line x1="475.3" y1="340.5" x2="475.3" y2="367.90000000000003" stroke="#2e2e2e" stroke-width="0.75"/>
<line x1="484.1" y1="340.5" x2="484.1" y2="367.90000000000003" stroke="#2e2e2e" stroke-width="0.75"/>
<line x1="514.0" y1="340.5" x2="514.0" y2="367.90000000000003" stroke="#2e2e2e" stroke-width="0.75"/>
<text x="490.8" y="349.9" font-size="7" text-anchor="middle" fill="#222" stroke="#222" stroke-width="0.22" textLength="6.4" lengthAdjust="spacingAndGlyphs">10</text>
<path d="M493.3 353.70000000000005 L494.9 350.6 L496.5 353.70000000000005 Z" stroke="#2e2e2e" stroke-width="0.5" fill="#222" stroke-linejoin="round"/>
<line x1="494.9" y1="352.8" x2="494.9" y2="364.3" stroke="#222" stroke-width="1.3"/>
<line x1="494.9" y1="364.3" x2="494.9" y2="417.8" stroke="#222" stroke-width="1.3" stroke-dasharray="3.6 1.6"/>
<line x1="404.3" y1="365.0" x2="528.6" y2="364.7" stroke="#2e2e2e" stroke-width="0.75"/>
<line x1="404.3" y1="411.0" x2="528.6" y2="410.8" stroke="#2e2e2e" stroke-width="0.75"/>
<line x1="404.3" y1="365.0" x2="404.3" y2="411.0" stroke="#2e2e2e" stroke-width="0.75"/>
<line x1="402.7" y1="366.6" x2="405.90000000000003" y2="363.4" stroke="#2e2e2e" stroke-width="0.8"/>
<line x1="402.7" y1="412.6" x2="405.90000000000003" y2="409.4" stroke="#2e2e2e" stroke-width="0.8"/>
<text x="403.2" y="388.00000000000006" font-size="7" text-anchor="middle" fill="#222" stroke="#222" stroke-width="0.22" transform="rotate(-90 403.2 388.00000000000006)" textLength="10" lengthAdjust="spacingAndGlyphs">400</text>
<line x1="418.0" y1="365.0" x2="418.0" y2="411.0" stroke="#2e2e2e" stroke-width="0.75"/>
<line x1="416.7" y1="366.3" x2="419.3" y2="363.7" stroke="#2e2e2e" stroke-width="0.8"/>
<line x1="416.7" y1="372.20000000000005" x2="419.3" y2="369.6" stroke="#2e2e2e" stroke-width="0.8"/>
<line x1="416.7" y1="380.0" x2="419.3" y2="377.4" stroke="#2e2e2e" stroke-width="0.8"/>
<line x1="416.7" y1="398.1000000000001" x2="419.3" y2="395.50000000000006" stroke="#2e2e2e" stroke-width="0.8"/>
<line x1="416.7" y1="406.50000000000006" x2="419.3" y2="403.90000000000003" stroke="#2e2e2e" stroke-width="0.8"/>
<line x1="416.7" y1="412.3" x2="419.3" y2="409.7" stroke="#2e2e2e" stroke-width="0.8"/>
<text x="417.4" y="359.1" font-size="7" text-anchor="middle" fill="#222" stroke="#222" stroke-width="0.22" transform="rotate(-90 417.4 359.1)" textLength="6.4" lengthAdjust="spacingAndGlyphs">50</text>
<text x="417.4" y="374.6" font-size="7" text-anchor="middle" fill="#222" stroke="#222" stroke-width="0.22" transform="rotate(-90 417.4 374.6)" textLength="6.2" lengthAdjust="spacingAndGlyphs">75</text>
<text x="417.4" y="387.70000000000005" font-size="7" text-anchor="middle" fill="#222" stroke="#222" stroke-width="0.22" transform="rotate(-90 417.4 387.70000000000005)" textLength="9.5" lengthAdjust="spacingAndGlyphs">150</text>
<text x="417.4" y="400.6" font-size="7" text-anchor="middle" fill="#222" stroke="#222" stroke-width="0.22" transform="rotate(-90 417.4 400.6)" textLength="6.2" lengthAdjust="spacingAndGlyphs">75</text>
<text x="417.4" y="416.3" font-size="7" text-anchor="middle" fill="#222" stroke="#222" stroke-width="0.22" transform="rotate(-90 417.4 416.3)" textLength="6.4" lengthAdjust="spacingAndGlyphs">50</text>
<line x1="418.0" y1="370.90000000000003" x2="470.5" y2="370.90000000000003" stroke="#2e2e2e" stroke-width="0.7"/>
<line x1="418.0" y1="405.20000000000005" x2="471.5" y2="405.20000000000005" stroke="#2e2e2e" stroke-width="0.7"/>
<line x1="418.0" y1="378.7" x2="463.5" y2="378.7" stroke="#2e2e2e" stroke-width="0.7"/>
<line x1="418.0" y1="396.80000000000007" x2="463.5" y2="396.80000000000007" stroke="#2e2e2e" stroke-width="0.7"/>
<path d="M432.6 364.8 C432.73 366.00 432.83 369.52 433.4 372 C433.97 374.48 434.77 377.13 436 379.7 C437.23 382.27 439.95 384.97 440.8 387.4 C441.65 389.83 441.75 392.15 441.1 394.3 C440.45 396.45 438.75 398.37 436.9 400.3 C435.05 402.23 431.58 404.10 430 405.9 C428.42 407.70 427.83 410.23 427.4 411.1" stroke="#2e2e2e" stroke-width="0.75" fill="none" stroke-linejoin="round"/>
<path d="M472.3 365.0 L518.3 364.8 L528.8 375.3 L528.8 399.70000000000005 L517.6 410.8 L472.3 411.0 L460.9 399.70000000000005 L460.9 376.1 Z" stroke="#2e2e2e" stroke-width="0.8" fill="none" stroke-linejoin="round"/>
<circle cx="475.3" cy="370.70000000000005" r="2.8" fill="#333" stroke="none" stroke-width="0.5"/>
<line x1="473.7" y1="370.70000000000005" x2="476.90000000000003" y2="370.70000000000005" stroke="#909090" stroke-width="0.5"/>
<line x1="475.3" y1="369.1" x2="475.3" y2="372.30000000000007" stroke="#909090" stroke-width="0.5"/>
<circle cx="484.1" cy="370.70000000000005" r="2.8" fill="#333" stroke="none" stroke-width="0.5"/>
<line x1="482.5" y1="370.70000000000005" x2="485.70000000000005" y2="370.70000000000005" stroke="#909090" stroke-width="0.5"/>
<line x1="484.1" y1="369.1" x2="484.1" y2="372.30000000000007" stroke="#909090" stroke-width="0.5"/>
<circle cx="505.1" cy="370.70000000000005" r="2.8" fill="#333" stroke="none" stroke-width="0.5"/>
<line x1="503.5" y1="370.70000000000005" x2="506.70000000000005" y2="370.70000000000005" stroke="#909090" stroke-width="0.5"/>
<line x1="505.1" y1="369.1" x2="505.1" y2="372.30000000000007" stroke="#909090" stroke-width="0.5"/>
<circle cx="514.0" cy="370.70000000000005" r="2.8" fill="#333" stroke="none" stroke-width="0.5"/>
<line x1="512.4" y1="370.70000000000005" x2="515.6" y2="370.70000000000005" stroke="#909090" stroke-width="0.5"/>
<line x1="514.0" y1="369.1" x2="514.0" y2="372.30000000000007" stroke="#909090" stroke-width="0.5"/>
<circle cx="475.3" cy="405.1" r="2.8" fill="#333" stroke="none" stroke-width="0.5"/>
<line x1="473.7" y1="405.1" x2="476.90000000000003" y2="405.1" stroke="#909090" stroke-width="0.5"/>
<line x1="475.3" y1="403.5" x2="475.3" y2="406.70000000000005" stroke="#909090" stroke-width="0.5"/>
<circle cx="484.1" cy="405.1" r="2.8" fill="#333" stroke="none" stroke-width="0.5"/>
<line x1="482.5" y1="405.1" x2="485.70000000000005" y2="405.1" stroke="#909090" stroke-width="0.5"/>
<line x1="484.1" y1="403.5" x2="484.1" y2="406.70000000000005" stroke="#909090" stroke-width="0.5"/>
<circle cx="505.1" cy="405.1" r="2.8" fill="#333" stroke="none" stroke-width="0.5"/>
<line x1="503.5" y1="405.1" x2="506.70000000000005" y2="405.1" stroke="#909090" stroke-width="0.5"/>
<line x1="505.1" y1="403.5" x2="505.1" y2="406.70000000000005" stroke="#909090" stroke-width="0.5"/>
<circle cx="514.0" cy="405.1" r="2.8" fill="#333" stroke="none" stroke-width="0.5"/>
<line x1="512.4" y1="405.1" x2="515.6" y2="405.1" stroke="#909090" stroke-width="0.5"/>
<line x1="514.0" y1="403.5" x2="514.0" y2="406.70000000000005" stroke="#909090" stroke-width="0.5"/>
<circle cx="466.3" cy="378.5" r="2.8" fill="#333" stroke="none" stroke-width="0.5"/>
<line x1="464.7" y1="378.5" x2="467.90000000000003" y2="378.5" stroke="#909090" stroke-width="0.5"/>
<line x1="466.3" y1="376.9" x2="466.3" y2="380.1" stroke="#909090" stroke-width="0.5"/>
<circle cx="475.3" cy="378.5" r="2.8" fill="#333" stroke="none" stroke-width="0.5"/>
<line x1="473.7" y1="378.5" x2="476.90000000000003" y2="378.5" stroke="#909090" stroke-width="0.5"/>
<line x1="475.3" y1="376.9" x2="475.3" y2="380.1" stroke="#909090" stroke-width="0.5"/>
<circle cx="484.1" cy="378.5" r="2.8" fill="#333" stroke="none" stroke-width="0.5"/>
<line x1="482.5" y1="378.5" x2="485.70000000000005" y2="378.5" stroke="#909090" stroke-width="0.5"/>
<line x1="484.1" y1="376.9" x2="484.1" y2="380.1" stroke="#909090" stroke-width="0.5"/>
<circle cx="505.1" cy="378.5" r="2.8" fill="#333" stroke="none" stroke-width="0.5"/>
<line x1="503.5" y1="378.5" x2="506.70000000000005" y2="378.5" stroke="#909090" stroke-width="0.5"/>
<line x1="505.1" y1="376.9" x2="505.1" y2="380.1" stroke="#909090" stroke-width="0.5"/>
<circle cx="514.0" cy="378.5" r="2.8" fill="#333" stroke="none" stroke-width="0.5"/>
<line x1="512.4" y1="378.5" x2="515.6" y2="378.5" stroke="#909090" stroke-width="0.5"/>
<line x1="514.0" y1="376.9" x2="514.0" y2="380.1" stroke="#909090" stroke-width="0.5"/>
<circle cx="523.0" cy="378.5" r="2.8" fill="#333" stroke="none" stroke-width="0.5"/>
<line x1="521.4" y1="378.5" x2="524.6" y2="378.5" stroke="#909090" stroke-width="0.5"/>
<line x1="523.0" y1="376.9" x2="523.0" y2="380.1" stroke="#909090" stroke-width="0.5"/>
<circle cx="466.3" cy="396.70000000000005" r="2.8" fill="#333" stroke="none" stroke-width="0.5"/>
<line x1="464.7" y1="396.70000000000005" x2="467.90000000000003" y2="396.70000000000005" stroke="#909090" stroke-width="0.5"/>
<line x1="466.3" y1="395.1" x2="466.3" y2="398.30000000000007" stroke="#909090" stroke-width="0.5"/>
<circle cx="475.3" cy="396.70000000000005" r="2.8" fill="#333" stroke="none" stroke-width="0.5"/>
<line x1="473.7" y1="396.70000000000005" x2="476.90000000000003" y2="396.70000000000005" stroke="#909090" stroke-width="0.5"/>
<line x1="475.3" y1="395.1" x2="475.3" y2="398.30000000000007" stroke="#909090" stroke-width="0.5"/>
<circle cx="484.1" cy="396.70000000000005" r="2.8" fill="#333" stroke="none" stroke-width="0.5"/>
<line x1="482.5" y1="396.70000000000005" x2="485.70000000000005" y2="396.70000000000005" stroke="#909090" stroke-width="0.5"/>
<line x1="484.1" y1="395.1" x2="484.1" y2="398.30000000000007" stroke="#909090" stroke-width="0.5"/>
<circle cx="505.1" cy="396.70000000000005" r="2.8" fill="#333" stroke="none" stroke-width="0.5"/>
<line x1="503.5" y1="396.70000000000005" x2="506.70000000000005" y2="396.70000000000005" stroke="#909090" stroke-width="0.5"/>
<line x1="505.1" y1="395.1" x2="505.1" y2="398.30000000000007" stroke="#909090" stroke-width="0.5"/>
<circle cx="514.0" cy="396.70000000000005" r="2.8" fill="#333" stroke="none" stroke-width="0.5"/>
<line x1="512.4" y1="396.70000000000005" x2="515.6" y2="396.70000000000005" stroke="#909090" stroke-width="0.5"/>
<line x1="514.0" y1="395.1" x2="514.0" y2="398.30000000000007" stroke="#909090" stroke-width="0.5"/>
<circle cx="523.0" cy="396.70000000000005" r="2.8" fill="#333" stroke="none" stroke-width="0.5"/>
<line x1="521.4" y1="396.70000000000005" x2="524.6" y2="396.70000000000005" stroke="#909090" stroke-width="0.5"/>
<line x1="523.0" y1="395.1" x2="523.0" y2="398.30000000000007" stroke="#909090" stroke-width="0.5"/>
<line x1="431" y1="387.70000000000005" x2="437" y2="387.70000000000005" stroke="#999" stroke-width="1.0"/>
<line x1="439.4" y1="387.70000000000005" x2="535" y2="387.70000000000005" stroke="#222" stroke-width="1.8"/>
<line x1="439.4" y1="386.30000000000007" x2="535" y2="386.30000000000007" stroke="#555" stroke-width="0.5"/>
<line x1="439.4" y1="389.1" x2="535" y2="389.1" stroke="#555" stroke-width="0.5"/>
<rect x="474.7" y="385.1" width="4.6" height="5.2" fill="#2a2a2a" stroke="none" stroke-width="0.75"/>
<rect x="475.5" y="383.40000000000003" width="2.9999999999999996" height="8.6" fill="#444" stroke="none" stroke-width="0.75"/>
<line x1="476.0" y1="387.70000000000005" x2="478.0" y2="387.70000000000005" stroke="#999" stroke-width="0.5"/>
<rect x="481.5" y="385.1" width="4.6" height="5.2" fill="#2a2a2a" stroke="none" stroke-width="0.75"/>
<rect x="482.3" y="383.40000000000003" width="2.9999999999999996" height="8.6" fill="#444" stroke="none" stroke-width="0.75"/>
<line x1="482.8" y1="387.70000000000005" x2="484.8" y2="387.70000000000005" stroke="#999" stroke-width="0.5"/>
<rect x="488.3" y="385.1" width="4.6" height="5.2" fill="#2a2a2a" stroke="none" stroke-width="0.75"/>
<rect x="489.1" y="383.40000000000003" width="2.9999999999999996" height="8.6" fill="#444" stroke="none" stroke-width="0.75"/>
<line x1="489.6" y1="387.70000000000005" x2="491.6" y2="387.70000000000005" stroke="#999" stroke-width="0.5"/>
<rect x="496.9" y="385.1" width="4.6" height="5.2" fill="#2a2a2a" stroke="none" stroke-width="0.75"/>
<rect x="497.7" y="383.40000000000003" width="2.9999999999999996" height="8.6" fill="#444" stroke="none" stroke-width="0.75"/>
<line x1="498.2" y1="387.70000000000005" x2="500.2" y2="387.70000000000005" stroke="#999" stroke-width="0.5"/>
<rect x="503.7" y="385.1" width="4.6" height="5.2" fill="#2a2a2a" stroke="none" stroke-width="0.75"/>
<rect x="504.5" y="383.40000000000003" width="2.9999999999999996" height="8.6" fill="#444" stroke="none" stroke-width="0.75"/>
<line x1="505.0" y1="387.70000000000005" x2="507.0" y2="387.70000000000005" stroke="#999" stroke-width="0.5"/>
<rect x="510.49999999999994" y="385.1" width="4.6" height="5.2" fill="#2a2a2a" stroke="none" stroke-width="0.75"/>
<rect x="511.29999999999995" y="383.40000000000003" width="2.9999999999999996" height="8.6" fill="#444" stroke="none" stroke-width="0.75"/>
<line x1="511.79999999999995" y1="387.70000000000005" x2="513.8" y2="387.70000000000005" stroke="#999" stroke-width="0.5"/>
<rect x="516.7" y="385.1" width="4.6" height="5.2" fill="#2a2a2a" stroke="none" stroke-width="0.75"/>
<rect x="517.5" y="383.40000000000003" width="2.9999999999999996" height="8.6" fill="#444" stroke="none" stroke-width="0.75"/>
<line x1="518.0" y1="387.70000000000005" x2="520.0" y2="387.70000000000005" stroke="#999" stroke-width="0.5"/>
<rect x="474.5" y="384.80000000000007" width="46.5" height="5.8" fill="none" stroke="#333" stroke-width="0.5"/>
<text x="446.3" y="424.7" font-size="7" text-anchor="middle" fill="#222" stroke="#222" stroke-width="0.22" textLength="25.5" lengthAdjust="spacingAndGlyphs">M24(10.9)</text>
<line x1="433.4" y1="427.70000000000005" x2="462.6" y2="427.70000000000005" stroke="#2e2e2e" stroke-width="0.75"/>
<line x1="462.6" y1="427.70000000000005" x2="473.6" y2="407.5" stroke="#2e2e2e" stroke-width="0.75"/>
<line x1="536.7" y1="318.5" x2="621.6" y2="318.5" stroke="#5c5c5c" stroke-width="2.6"/>
<line x1="536.7" y1="318.5" x2="621.6" y2="318.5" stroke="#f6f6f6" stroke-width="1.0" stroke-dasharray="12 4 3 4"/>
<line x1="536.7" y1="364.8" x2="621.6" y2="364.8" stroke="#3c3c3c" stroke-width="3.0"/>
<line x1="536.7" y1="364.8" x2="621.6" y2="364.8" stroke="#8a8a8a" stroke-width="0.6" stroke-dasharray="1.5 1.5"/>
<line x1="536.7" y1="388.0" x2="621.6" y2="388.0" stroke="#3c3c3c" stroke-width="3.0"/>
<line x1="536.7" y1="388.0" x2="621.6" y2="388.0" stroke="#8a8a8a" stroke-width="0.6" stroke-dasharray="1.5 1.5"/>
<line x1="536.7" y1="410.6" x2="621.6" y2="410.6" stroke="#3c3c3c" stroke-width="3.0"/>
<line x1="536.7" y1="410.6" x2="621.6" y2="410.6" stroke="#8a8a8a" stroke-width="0.6" stroke-dasharray="1.5 1.5"/>
<line x1="536.7" y1="457.1" x2="621.6" y2="457.1" stroke="#5c5c5c" stroke-width="2.6"/>
<line x1="536.7" y1="457.1" x2="621.6" y2="457.1" stroke="#f6f6f6" stroke-width="1.0" stroke-dasharray="12 4 3 4"/>
<line x1="536.9" y1="363.0" x2="536.9" y2="412.1" stroke="#3c3c3c" stroke-width="2.8"/>
<line x1="535.2" y1="411" x2="535.2" y2="432.4" stroke="#2e2e2e" stroke-width="0.75"/>
<line x1="538" y1="411" x2="538" y2="432.4" stroke="#2e2e2e" stroke-width="0.75"/>
<line x1="579.6" y1="297.5" x2="579.6" y2="301" stroke="#2e2e2e" stroke-width="0.8"/>
<line x1="579.6" y1="301" x2="579.6" y2="471.3" stroke="#333" stroke-width="2.9"/>
<line x1="579.6" y1="301" x2="579.6" y2="471.3" stroke="#8a8a8a" stroke-width="0.6" stroke-dasharray="1.6 1.6"/>
<line x1="579.6" y1="471.3" x2="579.6" y2="476.5" stroke="#2e2e2e" stroke-width="0.8"/>
<path d="M575.5999999999999 366.2 A2.7 2.7 0 0 0 578.3 368.9" fill="none" stroke="#2e2e2e" stroke-width="0.7"/>
<path d="M575.5999999999999 386.6 A2.7 2.7 0 0 1 578.3 383.90000000000003" fill="none" stroke="#2e2e2e" stroke-width="0.7"/>
<path d="M575.5999999999999 389.5 A2.7 2.7 0 0 0 578.3 392.2" fill="none" stroke="#2e2e2e" stroke-width="0.7"/>
<path d="M575.5999999999999 409.2 A2.7 2.7 0 0 1 578.3 406.5" fill="none" stroke="#2e2e2e" stroke-width="0.7"/>
<path d="M540.9000000000001 386.6 A2.7 2.7 0 0 0 538.2 383.90000000000003" fill="none" stroke="#2e2e2e" stroke-width="0.7"/>
<path d="M540.9000000000001 389.5 A2.7 2.7 0 0 1 538.2 392.2" fill="none" stroke="#2e2e2e" stroke-width="0.7"/>
<line x1="623" y1="317.6" x2="633" y2="317.6" stroke="#2e2e2e" stroke-width="0.6"/>
<line x1="623" y1="319.4" x2="633" y2="319.4" stroke="#2e2e2e" stroke-width="0.6"/>
<line x1="631.8" y1="315.5" x2="631.8" y2="321.5" stroke="#2e2e2e" stroke-width="0.7"/>
<line x1="633" y1="318.5" x2="646" y2="318.5" stroke="#2e2e2e" stroke-width="0.7"/>
<text x="631.4" y="311.6" font-size="7" text-anchor="middle" fill="#222" stroke="#222" stroke-width="0.22" transform="rotate(-90 631.4 311.6)" textLength="6.3" lengthAdjust="spacingAndGlyphs">25</text>
<line x1="644.7" y1="319.8" x2="647.3" y2="317.2" stroke="#2e2e2e" stroke-width="0.8"/>
<line x1="623" y1="363.5" x2="633" y2="363.5" stroke="#2e2e2e" stroke-width="0.6"/>
<line x1="623" y1="365.29999999999995" x2="633" y2="365.29999999999995" stroke="#2e2e2e" stroke-width="0.6"/>
<line x1="631.8" y1="361.4" x2="631.8" y2="367.4" stroke="#2e2e2e" stroke-width="0.7"/>
<line x1="633" y1="364.4" x2="646" y2="364.4" stroke="#2e2e2e" stroke-width="0.7"/>
<text x="631.4" y="357.9" font-size="7" text-anchor="middle" fill="#222" stroke="#222" stroke-width="0.22" transform="rotate(-90 631.4 357.9)" textLength="6.3" lengthAdjust="spacingAndGlyphs">25</text>
<line x1="644.7" y1="365.7" x2="647.3" y2="363.09999999999997" stroke="#2e2e2e" stroke-width="0.8"/>
<line x1="623" y1="387.1" x2="633" y2="387.1" stroke="#2e2e2e" stroke-width="0.6"/>
<line x1="623" y1="388.9" x2="633" y2="388.9" stroke="#2e2e2e" stroke-width="0.6"/>
<line x1="631.8" y1="385.0" x2="631.8" y2="391.0" stroke="#2e2e2e" stroke-width="0.7"/>
<line x1="633" y1="388.0" x2="646" y2="388.0" stroke="#2e2e2e" stroke-width="0.7"/>
<text x="631.4" y="381.8" font-size="7" text-anchor="middle" fill="#222" stroke="#222" stroke-width="0.22" transform="rotate(-90 631.4 381.8)" textLength="6.3" lengthAdjust="spacingAndGlyphs">25</text>
<line x1="644.7" y1="389.3" x2="647.3" y2="386.7" stroke="#2e2e2e" stroke-width="0.8"/>
<line x1="623" y1="409.8" x2="633" y2="409.8" stroke="#2e2e2e" stroke-width="0.6"/>
<line x1="623" y1="411.59999999999997" x2="633" y2="411.59999999999997" stroke="#2e2e2e" stroke-width="0.6"/>
<line x1="631.8" y1="407.7" x2="631.8" y2="413.7" stroke="#2e2e2e" stroke-width="0.7"/>
<line x1="633" y1="410.7" x2="646" y2="410.7" stroke="#2e2e2e" stroke-width="0.7"/>
<text x="631.4" y="404.1" font-size="7" text-anchor="middle" fill="#222" stroke="#222" stroke-width="0.22" transform="rotate(-90 631.4 404.1)" textLength="6.3" lengthAdjust="spacingAndGlyphs">25</text>
<line x1="644.7" y1="412.0" x2="647.3" y2="409.4" stroke="#2e2e2e" stroke-width="0.8"/>
<line x1="623" y1="456.20000000000005" x2="633" y2="456.20000000000005" stroke="#2e2e2e" stroke-width="0.6"/>
<line x1="623" y1="458.0" x2="633" y2="458.0" stroke="#2e2e2e" stroke-width="0.6"/>
<line x1="631.8" y1="454.1" x2="631.8" y2="460.1" stroke="#2e2e2e" stroke-width="0.7"/>
<line x1="633" y1="457.1" x2="646" y2="457.1" stroke="#2e2e2e" stroke-width="0.7"/>
<text x="631.4" y="449.4" font-size="7" text-anchor="middle" fill="#222" stroke="#222" stroke-width="0.22" transform="rotate(-90 631.4 449.4)" textLength="6.3" lengthAdjust="spacingAndGlyphs">25</text>
<line x1="644.7" y1="458.40000000000003" x2="647.3" y2="455.8" stroke="#2e2e2e" stroke-width="0.8"/>
<line x1="646" y1="318.5" x2="646" y2="457.1" stroke="#2e2e2e" stroke-width="0.75"/>
<text x="645" y="341.1" font-size="7" text-anchor="middle" fill="#222" stroke="#222" stroke-width="0.22" transform="rotate(-90 645 341.1)" textLength="10" lengthAdjust="spacingAndGlyphs">400</text>
<text x="645" y="375.9" font-size="7" text-anchor="middle" fill="#222" stroke="#222" stroke-width="0.22" transform="rotate(-90 645 375.9)" textLength="10" lengthAdjust="spacingAndGlyphs">200</text>
<text x="645" y="399.2" font-size="7" text-anchor="middle" fill="#222" stroke="#222" stroke-width="0.22" transform="rotate(-90 645 399.2)" textLength="10" lengthAdjust="spacingAndGlyphs">200</text>
<text x="645" y="432.7" font-size="7" text-anchor="middle" fill="#222" stroke="#222" stroke-width="0.22" transform="rotate(-90 645 432.7)" textLength="10" lengthAdjust="spacingAndGlyphs">400</text>
<g transform="rotate(-18 555.8 380.2)">
<text x="548.4" y="380.2" font-size="5.6000000000000005" text-anchor="start" fill="#222" stroke="#222" stroke-width="0.22" textLength="3.3" lengthAdjust="spacingAndGlyphs">T</text>
<line x1="552.6" y1="377.2" x2="555.3" y2="377.2" stroke="#111" stroke-width="0.75"/>
<line x1="552.6" y1="378.9" x2="555.3" y2="378.9" stroke="#111" stroke-width="0.75"/>
<text x="556.1999999999999" y="380.2" font-size="7" text-anchor="start" fill="#222" stroke="#222" stroke-width="0.22" textLength="7.000000000000001" lengthAdjust="spacingAndGlyphs">25</text>
</g>
<g transform="rotate(-18 555.5 401.2)">
<text x="548.1" y="401.2" font-size="5.6000000000000005" text-anchor="start" fill="#222" stroke="#222" stroke-width="0.22" textLength="3.3" lengthAdjust="spacingAndGlyphs">T</text>
<line x1="552.3000000000001" y1="398.2" x2="555.0" y2="398.2" stroke="#111" stroke-width="0.75"/>
<line x1="552.3000000000001" y1="399.9" x2="555.0" y2="399.9" stroke="#111" stroke-width="0.75"/>
<text x="555.9" y="401.2" font-size="7" text-anchor="start" fill="#222" stroke="#222" stroke-width="0.22" textLength="7.000000000000001" lengthAdjust="spacingAndGlyphs">25</text>
</g>
<line x1="534.1" y1="432.3" x2="622.3" y2="432.3" stroke="#2e2e2e" stroke-width="0.75"/>
<line x1="621.6" y1="411" x2="621.6" y2="432.3" stroke="#2e2e2e" stroke-width="0.75"/>
<line x1="533.9000000000001" y1="433.6" x2="536.5" y2="431.0" stroke="#2e2e2e" stroke-width="0.8"/>
<line x1="536.7" y1="433.6" x2="539.3" y2="431.0" stroke="#2e2e2e" stroke-width="0.8"/>
<line x1="576.9000000000001" y1="433.6" x2="579.5" y2="431.0" stroke="#2e2e2e" stroke-width="0.8"/>
<line x1="579.7" y1="433.6" x2="582.3" y2="431.0" stroke="#2e2e2e" stroke-width="0.8"/>
<line x1="620.3000000000001" y1="433.6" x2="622.9" y2="431.0" stroke="#2e2e2e" stroke-width="0.8"/>
<text x="530.2" y="430.2" font-size="7" text-anchor="middle" fill="#222" stroke="#222" stroke-width="0.22" textLength="6.3" lengthAdjust="spacingAndGlyphs">25</text>
<text x="558" y="430.2" font-size="7" text-anchor="middle" fill="#222" stroke="#222" stroke-width="0.22" textLength="10" lengthAdjust="spacingAndGlyphs">350</text>
<text x="586.3" y="429.6" font-size="7" text-anchor="middle" fill="#222" stroke="#222" stroke-width="0.22" textLength="6.3" lengthAdjust="spacingAndGlyphs">30</text>
<text x="601" y="430.2" font-size="7" text-anchor="middle" fill="#222" stroke="#222" stroke-width="0.22" textLength="10" lengthAdjust="spacingAndGlyphs">350</text>
</svg>
</body></html>
